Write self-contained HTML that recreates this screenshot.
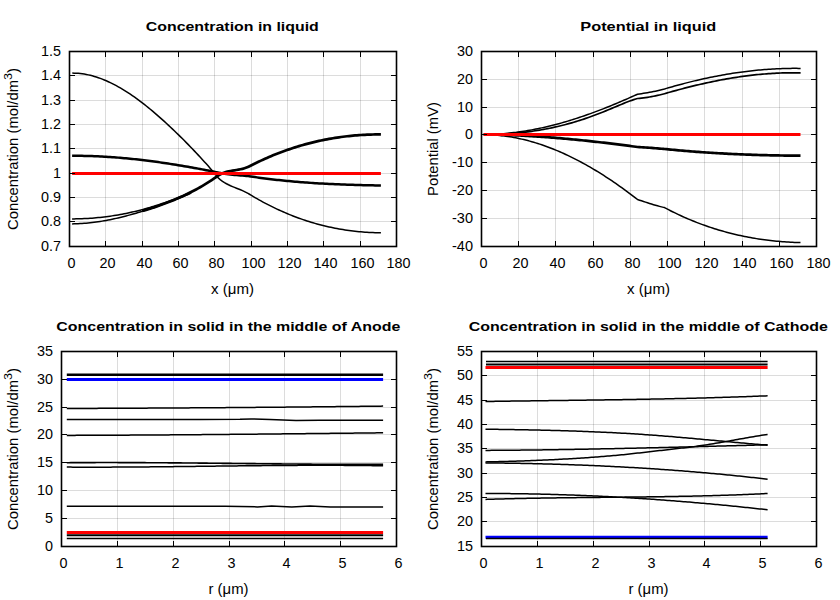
<!DOCTYPE html>
<html><head><meta charset="utf-8"><style>
html,body{margin:0;padding:0;background:#fff;width:840px;height:600px;overflow:hidden}
svg{display:block}
text{font-family:"Liberation Sans", sans-serif}
</style></head><body>
<svg width="840" height="600" viewBox="0 0 840 600" font-family="Liberation Sans, sans-serif" fill="#000">
<rect width="840" height="600" fill="#fff"/>
<rect x="105" y="51.5" width="1" height="195.0" fill="rgba(0,0,0,0.137)"/>
<rect x="142" y="51.5" width="1" height="195.0" fill="rgba(0,0,0,0.137)"/>
<rect x="178" y="51.5" width="1" height="195.0" fill="rgba(0,0,0,0.137)"/>
<rect x="214" y="51.5" width="1" height="195.0" fill="rgba(0,0,0,0.137)"/>
<rect x="251" y="51.5" width="1" height="195.0" fill="rgba(0,0,0,0.137)"/>
<rect x="287" y="51.5" width="1" height="195.0" fill="rgba(0,0,0,0.137)"/>
<rect x="323" y="51.5" width="1" height="195.0" fill="rgba(0,0,0,0.137)"/>
<rect x="360" y="51.5" width="1" height="195.0" fill="rgba(0,0,0,0.137)"/>
<rect x="69.5" y="221" width="327.0" height="1" fill="rgba(0,0,0,0.137)"/>
<rect x="69.5" y="197" width="327.0" height="1" fill="rgba(0,0,0,0.137)"/>
<rect x="69.5" y="173" width="327.0" height="1" fill="rgba(0,0,0,0.137)"/>
<rect x="69.5" y="148" width="327.0" height="1" fill="rgba(0,0,0,0.137)"/>
<rect x="69.5" y="124" width="327.0" height="1" fill="rgba(0,0,0,0.137)"/>
<rect x="69.5" y="100" width="327.0" height="1" fill="rgba(0,0,0,0.137)"/>
<rect x="69.5" y="75" width="327.0" height="1" fill="rgba(0,0,0,0.137)"/>
<path d="M72.30,73.10 L74.30,73.13 L76.30,73.21 L78.30,73.35 L80.30,73.54 L82.30,73.79 L84.30,74.10 L86.30,74.45 L88.30,74.87 L90.30,75.33 L92.30,75.84 L94.30,76.41 L96.30,77.02 L98.30,77.68 L100.30,78.39 L102.30,79.15 L104.30,79.95 L106.30,80.80 L108.30,81.69 L110.30,82.63 L112.30,83.61 L114.30,84.63 L116.30,85.69 L118.30,86.79 L120.30,87.94 L122.30,89.12 L124.30,90.34 L126.30,91.59 L128.30,92.89 L130.30,94.22 L132.30,95.58 L134.30,96.97 L136.30,98.40 L138.30,99.87 L140.30,101.36 L142.30,102.88 L144.30,104.44 L146.30,106.02 L148.30,107.63 L150.30,109.27 L152.30,110.93 L154.30,112.62 L156.30,114.34 L158.30,116.07 L160.30,117.84 L162.30,119.62 L164.30,121.43 L166.30,123.25 L168.30,125.10 L170.30,126.97 L172.30,128.85 L174.30,130.76 L176.30,132.69 L178.30,134.63 L180.30,136.60 L182.30,138.58 L184.30,140.58 L186.30,142.61 L188.30,144.65 L190.30,146.71 L192.30,148.78 L194.30,150.88 L196.30,152.99 L198.30,155.12 L200.30,157.27 L202.30,159.45 L204.30,161.64 L206.30,163.87 L208.30,166.12 L210.30,168.41 L212.30,170.74 L214.30,173.10 L216.30,175.50 L218.30,177.95 L218.50,178.20 L220.50,179.84 L222.50,181.30 L224.50,182.59 L226.50,183.74 L228.50,184.78 L230.50,185.71 L232.50,186.58 L234.50,187.40 L236.50,188.19 L238.50,188.98 L240.50,189.79 L242.50,190.65 L244.50,191.57 L246.50,192.58 L248.50,193.70 L249.00,194.00 L251.00,195.21 L253.00,196.40 L255.00,197.57 L257.00,198.72 L259.00,199.85 L261.00,200.96 L263.00,202.05 L265.00,203.11 L267.00,204.16 L269.00,205.18 L271.00,206.19 L273.00,207.18 L275.00,208.14 L277.00,209.09 L279.00,210.01 L281.00,210.92 L283.00,211.80 L285.00,212.67 L287.00,213.52 L289.00,214.34 L291.00,215.15 L293.00,215.94 L295.00,216.71 L297.00,217.46 L299.00,218.19 L301.00,218.90 L303.00,219.59 L305.00,220.27 L307.00,220.92 L309.00,221.56 L311.00,222.18 L313.00,222.78 L315.00,223.36 L317.00,223.92 L319.00,224.47 L321.00,224.99 L323.00,225.50 L325.00,225.99 L327.00,226.46 L329.00,226.92 L331.00,227.35 L333.00,227.77 L335.00,228.18 L337.00,228.56 L339.00,228.93 L341.00,229.28 L343.00,229.61 L345.00,229.92 L347.00,230.22 L349.00,230.50 L351.00,230.76 L353.00,231.01 L355.00,231.24 L357.00,231.46 L359.00,231.65 L361.00,231.83 L363.00,232.00 L365.00,232.15 L367.00,232.28 L369.00,232.39 L371.00,232.49 L373.00,232.58 L375.00,232.64 L377.00,232.69 L379.00,232.73 L380.90,232.75" fill="none" stroke="#000" stroke-width="1.5" stroke-linejoin="round" stroke-linecap="butt"/>
<path d="M72.10,157.05 L74.10,157.04 L76.10,157.05 L78.09,157.06 L80.09,157.08 L82.08,157.10 L84.08,157.14 L86.07,157.18 L88.07,157.23 L90.06,157.29 L92.06,157.35 L94.05,157.43 L96.05,157.51 L98.04,157.60 L100.04,157.69 L102.03,157.79 L104.03,157.90 L106.02,158.02 L108.02,158.14 L110.02,158.28 L112.01,158.41 L114.01,158.56 L116.00,158.71 L118.00,158.87 L120.00,159.03 L121.99,159.20 L123.99,159.38 L125.98,159.57 L127.98,159.76 L129.98,159.95 L131.97,160.16 L133.97,160.37 L135.96,160.58 L137.96,160.80 L139.96,161.03 L141.95,161.26 L143.95,161.50 L145.95,161.75 L147.94,162.00 L149.94,162.25 L151.94,162.51 L153.93,162.78 L155.93,163.05 L157.93,163.33 L159.92,163.61 L161.92,163.90 L163.92,164.19 L165.91,164.49 L167.91,164.79 L169.91,165.10 L171.91,165.41 L173.90,165.73 L175.90,166.05 L177.90,166.38 L179.89,166.71 L181.89,167.04 L183.89,167.38 L185.89,167.73 L187.88,168.07 L189.88,168.43 L191.88,168.78 L193.88,169.14 L195.87,169.51 L197.87,169.87 L199.87,170.24 L201.87,170.62 L203.87,171.00 L205.86,171.38 L207.86,171.77 L209.86,172.16 L211.86,172.55 L213.86,172.95 L215.85,173.34 L217.85,173.75 L218.22,173.82 L220.23,174.29 L222.27,174.71 L224.30,175.06 L226.33,175.36 L228.35,175.62 L230.37,175.84 L232.39,176.03 L234.40,176.20 L236.41,176.35 L238.41,176.50 L240.41,176.64 L242.40,176.80 L244.39,176.96 L246.37,177.15 L248.36,177.37 L248.82,177.42 L250.81,177.73 L252.82,178.03 L254.82,178.32 L256.82,178.61 L258.83,178.89 L260.83,179.16 L262.84,179.43 L264.84,179.69 L266.84,179.95 L268.85,180.20 L270.85,180.44 L272.86,180.67 L274.86,180.90 L276.86,181.13 L278.87,181.35 L280.87,181.56 L282.87,181.77 L284.88,181.97 L286.88,182.16 L288.88,182.36 L290.89,182.54 L292.89,182.72 L294.89,182.90 L296.90,183.07 L298.90,183.23 L300.90,183.39 L302.90,183.55 L304.91,183.70 L306.91,183.84 L308.91,183.98 L310.92,184.12 L312.92,184.25 L314.92,184.38 L316.92,184.51 L318.93,184.63 L320.93,184.74 L322.93,184.85 L324.93,184.96 L326.94,185.07 L328.94,185.17 L330.94,185.26 L332.94,185.36 L334.94,185.45 L336.95,185.53 L338.95,185.62 L340.95,185.70 L342.95,185.77 L344.95,185.85 L346.96,185.92 L348.96,185.99 L350.96,186.05 L352.96,186.11 L354.96,186.17 L356.96,186.23 L358.97,186.29 L360.97,186.34 L362.97,186.39 L364.97,186.44 L366.97,186.48 L368.97,186.53 L370.97,186.57 L372.98,186.61 L374.98,186.65 L376.98,186.68 L378.98,186.72 L380.88,186.75 L380.92,184.25 L379.02,184.22 L377.02,184.18 L375.02,184.15 L373.02,184.11 L371.03,184.07 L369.03,184.03 L367.03,183.98 L365.03,183.94 L363.03,183.89 L361.03,183.84 L359.03,183.79 L357.04,183.73 L355.04,183.68 L353.04,183.62 L351.04,183.55 L349.04,183.49 L347.04,183.42 L345.05,183.35 L343.05,183.28 L341.05,183.20 L339.05,183.12 L337.05,183.04 L335.06,182.95 L333.06,182.86 L331.06,182.77 L329.06,182.67 L327.06,182.57 L325.07,182.47 L323.07,182.36 L321.07,182.25 L319.07,182.13 L317.08,182.01 L315.08,181.89 L313.08,181.76 L311.08,181.63 L309.09,181.49 L307.09,181.35 L305.09,181.20 L303.10,181.05 L301.10,180.90 L299.10,180.74 L297.10,180.57 L295.11,180.41 L293.11,180.23 L291.11,180.05 L289.12,179.87 L287.12,179.68 L285.12,179.48 L283.13,179.28 L281.13,179.07 L279.13,178.86 L277.14,178.64 L275.14,178.42 L273.14,178.19 L271.15,177.96 L269.15,177.71 L267.16,177.47 L265.16,177.21 L263.16,176.95 L261.17,176.69 L259.17,176.41 L257.18,176.14 L255.18,175.85 L253.18,175.56 L251.19,175.26 L249.18,174.95 L248.64,174.89 L246.63,174.67 L244.61,174.47 L242.60,174.31 L240.59,174.15 L238.59,174.01 L236.59,173.86 L234.60,173.71 L232.61,173.54 L230.63,173.35 L228.65,173.14 L226.67,172.88 L224.70,172.59 L222.73,172.25 L220.77,171.85 L218.78,171.38 L218.35,171.30 L216.35,170.89 L214.34,170.49 L212.34,170.10 L210.34,169.70 L208.34,169.31 L206.34,168.93 L204.33,168.54 L202.33,168.16 L200.33,167.79 L198.33,167.42 L196.33,167.05 L194.32,166.68 L192.32,166.32 L190.32,165.96 L188.32,165.61 L186.31,165.26 L184.31,164.92 L182.31,164.58 L180.31,164.24 L178.30,163.91 L176.30,163.58 L174.30,163.26 L172.29,162.94 L170.29,162.63 L168.29,162.32 L166.29,162.02 L164.28,161.72 L162.28,161.43 L160.28,161.14 L158.27,160.85 L156.27,160.58 L154.27,160.30 L152.26,160.04 L150.26,159.77 L148.26,159.52 L146.25,159.27 L144.25,159.02 L142.25,158.78 L140.24,158.55 L138.24,158.32 L136.24,158.10 L134.23,157.88 L132.23,157.67 L130.22,157.47 L128.22,157.27 L126.22,157.08 L124.21,156.89 L122.21,156.71 L120.20,156.54 L118.20,156.38 L116.20,156.22 L114.19,156.07 L112.19,155.92 L110.18,155.78 L108.18,155.65 L106.18,155.53 L104.17,155.41 L102.17,155.30 L100.16,155.19 L98.16,155.10 L96.15,155.01 L94.15,154.93 L92.14,154.86 L90.14,154.79 L88.13,154.73 L86.13,154.68 L84.12,154.64 L82.12,154.60 L80.11,154.58 L78.11,154.56 L76.10,154.55 L74.10,154.54 L72.10,154.55 Z" fill="#000"/>
<path d="M72.10,218.90 L74.10,218.89 L76.10,218.87 L78.10,218.83 L80.10,218.78 L82.10,218.71 L84.10,218.62 L86.10,218.53 L88.10,218.41 L90.10,218.28 L92.10,218.14 L94.10,217.98 L96.10,217.81 L98.10,217.62 L100.10,217.42 L102.10,217.20 L104.10,216.96 L106.10,216.71 L108.10,216.45 L110.10,216.17 L112.10,215.88 L114.10,215.57 L116.10,215.24 L118.10,214.90 L120.10,214.55 L122.10,214.18 L124.10,213.79 L126.10,213.39 L128.10,212.97 L130.10,212.54 L132.10,212.10 L134.10,211.63 L136.10,211.16 L138.10,210.67 L140.10,210.16 L142.10,209.63 L144.10,209.10 L146.10,208.54 L148.10,207.97 L150.10,207.39 L152.10,206.79 L154.10,206.17 L156.10,205.54 L158.10,204.89 L160.10,204.23 L162.10,203.55 L164.10,202.86 L166.10,202.15 L168.10,201.42 L170.10,200.68 L172.10,199.93 L174.10,199.16 L176.10,198.37 L178.10,197.57 L180.10,196.75 L182.10,195.92 L184.10,195.07 L186.10,194.20 L188.10,193.32 L190.10,192.42 L191.25,191.90" fill="none" stroke="#000" stroke-width="1.5" stroke-linejoin="round" stroke-linecap="butt"/>
<path d="M72.10,223.90 L74.10,223.86 L76.10,223.81 L78.10,223.72 L80.10,223.62 L82.10,223.50 L84.10,223.35 L86.10,223.18 L88.10,222.99 L90.10,222.78 L92.10,222.56 L94.10,222.31 L96.10,222.04 L98.10,221.75 L100.10,221.44 L102.10,221.12 L104.10,220.78 L106.10,220.42 L108.10,220.04 L110.10,219.65 L112.10,219.24 L114.10,218.81 L116.10,218.37 L118.10,217.91 L120.10,217.44 L122.10,216.95 L124.10,216.45 L126.10,215.93 L128.10,215.40 L130.10,214.86 L132.10,214.30 L134.10,213.74 L136.10,213.16 L138.10,212.56 L140.10,211.96 L142.10,211.35 L144.10,210.72 L146.10,210.08 L148.10,209.44 L150.10,208.78 L152.10,208.11 L154.10,207.44 L156.10,206.75 L158.10,206.05 L160.10,205.35 L162.10,204.63 L164.10,203.90 L166.10,203.16 L168.10,202.42 L170.10,201.66 L172.10,200.90 L174.10,200.12 L176.10,199.34 L178.10,198.54 L180.10,197.74 L182.10,196.93 L184.10,196.11 L186.10,195.28 L188.10,194.44 L190.10,193.59 L191.25,193.10" fill="none" stroke="#000" stroke-width="1.5" stroke-linejoin="round" stroke-linecap="butt"/>
<path d="M142.50,212.29 L144.50,211.72 L146.51,211.14 L148.52,210.54 L150.52,209.92 L152.53,209.29 L154.54,208.63 L156.54,207.96 L158.55,207.28 L160.56,206.57 L162.56,205.85 L164.57,205.10 L166.58,204.35 L168.59,203.58 L170.60,202.79 L172.61,201.99 L174.62,201.16 L176.63,200.31 L178.64,199.45 L180.65,198.56 L182.66,197.65 L184.67,196.72 L186.68,195.76 L188.70,194.79 L190.71,193.79 L192.72,192.76 L194.73,191.71 L196.74,190.63 L198.76,189.52 L200.77,188.39 L202.78,187.22 L204.79,186.03 L206.81,184.81 L208.82,183.55 L210.83,182.27 L212.85,180.95 L214.86,179.59 L216.87,178.21 L218.88,176.79 L219.19,176.56 L221.13,175.45 L223.03,174.55 L224.94,173.81 L226.87,173.21 L228.80,172.72 L230.76,172.31 L232.72,171.97 L234.71,171.65 L236.71,171.34 L238.74,171.00 L240.78,170.61 L242.83,170.14 L244.90,169.57 L246.98,168.85 L249.04,167.98 L249.61,167.71 L251.61,166.68 L253.60,165.67 L255.59,164.69 L257.59,163.72 L259.58,162.77 L261.57,161.84 L263.56,160.92 L265.55,160.03 L267.54,159.15 L269.53,158.29 L271.52,157.44 L273.51,156.62 L275.50,155.81 L277.49,155.02 L279.48,154.24 L281.48,153.48 L283.47,152.75 L285.46,152.02 L287.45,151.32 L289.44,150.63 L291.43,149.95 L293.42,149.30 L295.41,148.66 L297.40,148.04 L299.39,147.43 L301.38,146.84 L303.37,146.27 L305.36,145.71 L307.35,145.17 L309.34,144.64 L311.33,144.14 L313.32,143.64 L315.31,143.16 L317.30,142.70 L319.29,142.26 L321.28,141.83 L323.27,141.41 L325.26,141.01 L327.25,140.63 L329.24,140.26 L331.23,139.90 L333.22,139.56 L335.21,139.24 L337.20,138.93 L339.19,138.64 L341.18,138.36 L343.17,138.09 L345.16,137.84 L347.15,137.61 L349.14,137.39 L351.13,137.18 L353.13,136.99 L355.12,136.81 L357.11,136.65 L359.10,136.50 L361.09,136.36 L363.08,136.24 L365.07,136.13 L367.06,136.03 L369.05,135.95 L371.04,135.89 L373.03,135.83 L375.02,135.79 L377.01,135.76 L379.01,135.75 L380.90,135.75 L380.90,133.05 L378.99,133.05 L376.99,133.06 L374.98,133.09 L372.97,133.13 L370.96,133.19 L368.95,133.26 L366.94,133.34 L364.93,133.43 L362.92,133.54 L360.91,133.67 L358.90,133.80 L356.89,133.95 L354.88,134.12 L352.87,134.30 L350.87,134.49 L348.86,134.70 L346.85,134.93 L344.84,135.16 L342.83,135.42 L340.82,135.68 L338.81,135.97 L336.80,136.26 L334.79,136.57 L332.78,136.90 L330.77,137.24 L328.76,137.60 L326.75,137.97 L324.74,138.36 L322.73,138.77 L320.72,139.18 L318.71,139.62 L316.70,140.07 L314.69,140.54 L312.68,141.02 L310.67,141.52 L308.66,142.03 L306.65,142.56 L304.64,143.11 L302.63,143.67 L300.62,144.25 L298.61,144.85 L296.60,145.46 L294.59,146.09 L292.58,146.73 L290.57,147.39 L288.56,148.07 L286.55,148.77 L284.54,149.48 L282.53,150.21 L280.52,150.96 L278.52,151.72 L276.51,152.50 L274.50,153.30 L272.49,154.12 L270.48,154.95 L268.47,155.80 L266.46,156.67 L264.45,157.56 L262.44,158.46 L260.43,159.39 L258.42,160.33 L256.41,161.29 L254.41,162.26 L252.40,163.26 L250.39,164.27 L248.39,165.30 L247.96,165.50 L246.02,166.33 L244.10,166.99 L242.17,167.53 L240.22,167.97 L238.26,168.34 L236.29,168.67 L234.29,168.98 L232.28,169.30 L230.24,169.66 L228.20,170.09 L226.13,170.62 L224.06,171.26 L221.97,172.07 L219.87,173.06 L217.81,174.24 L217.32,174.59 L215.33,175.99 L213.34,177.36 L211.35,178.70 L209.37,180.00 L207.38,181.27 L205.39,182.51 L203.41,183.72 L201.42,184.89 L199.43,186.04 L197.44,187.16 L195.46,188.25 L193.47,189.32 L191.48,190.36 L189.49,191.37 L187.50,192.36 L185.52,193.33 L183.53,194.27 L181.54,195.19 L179.55,196.09 L177.56,196.97 L175.57,197.83 L173.58,198.67 L171.59,199.49 L169.60,200.28 L167.61,201.06 L165.62,201.82 L163.63,202.56 L161.64,203.27 L159.64,203.96 L157.65,204.63 L155.66,205.29 L153.66,205.93 L151.67,206.54 L149.68,207.15 L147.68,207.73 L145.69,208.30 L143.70,208.85 L141.70,209.38 Z" fill="#000"/>
<line x1="72.1" y1="173.5" x2="380.9" y2="173.5" stroke="#ff0000" stroke-width="3"/>
<rect x="69" y="241.0" width="1" height="5" fill="#000"/>
<rect x="69" y="52.0" width="1" height="5" fill="#000"/>
<text x="71.40" y="267.70" font-size="14" text-anchor="middle" textLength="8.00" lengthAdjust="spacingAndGlyphs">0</text>
<rect x="105" y="241.0" width="1" height="5" fill="#000"/>
<rect x="105" y="52.0" width="1" height="5" fill="#000"/>
<text x="107.40" y="267.70" font-size="14" text-anchor="middle" textLength="16.00" lengthAdjust="spacingAndGlyphs">20</text>
<rect x="142" y="241.0" width="1" height="5" fill="#000"/>
<rect x="142" y="52.0" width="1" height="5" fill="#000"/>
<text x="144.40" y="267.70" font-size="14" text-anchor="middle" textLength="16.00" lengthAdjust="spacingAndGlyphs">40</text>
<rect x="178" y="241.0" width="1" height="5" fill="#000"/>
<rect x="178" y="52.0" width="1" height="5" fill="#000"/>
<text x="180.40" y="267.70" font-size="14" text-anchor="middle" textLength="16.00" lengthAdjust="spacingAndGlyphs">60</text>
<rect x="214" y="241.0" width="1" height="5" fill="#000"/>
<rect x="214" y="52.0" width="1" height="5" fill="#000"/>
<text x="216.40" y="267.70" font-size="14" text-anchor="middle" textLength="16.00" lengthAdjust="spacingAndGlyphs">80</text>
<rect x="251" y="241.0" width="1" height="5" fill="#000"/>
<rect x="251" y="52.0" width="1" height="5" fill="#000"/>
<text x="253.40" y="267.70" font-size="14" text-anchor="middle" textLength="24.00" lengthAdjust="spacingAndGlyphs">100</text>
<rect x="287" y="241.0" width="1" height="5" fill="#000"/>
<rect x="287" y="52.0" width="1" height="5" fill="#000"/>
<text x="289.40" y="267.70" font-size="14" text-anchor="middle" textLength="24.00" lengthAdjust="spacingAndGlyphs">120</text>
<rect x="323" y="241.0" width="1" height="5" fill="#000"/>
<rect x="323" y="52.0" width="1" height="5" fill="#000"/>
<text x="325.40" y="267.70" font-size="14" text-anchor="middle" textLength="24.00" lengthAdjust="spacingAndGlyphs">140</text>
<rect x="360" y="241.0" width="1" height="5" fill="#000"/>
<rect x="360" y="52.0" width="1" height="5" fill="#000"/>
<text x="362.40" y="267.70" font-size="14" text-anchor="middle" textLength="24.00" lengthAdjust="spacingAndGlyphs">160</text>
<rect x="396" y="241.0" width="1" height="5" fill="#000"/>
<rect x="396" y="52.0" width="1" height="5" fill="#000"/>
<text x="398.40" y="267.70" font-size="14" text-anchor="middle" textLength="24.00" lengthAdjust="spacingAndGlyphs">180</text>
<rect x="70.0" y="246" width="5" height="1" fill="#000"/>
<rect x="391.0" y="246" width="5" height="1" fill="#000"/>
<text x="61.00" y="250.90" font-size="14" text-anchor="end" textLength="20.00" lengthAdjust="spacingAndGlyphs">0.7</text>
<rect x="70.0" y="221" width="5" height="1" fill="#000"/>
<rect x="391.0" y="221" width="5" height="1" fill="#000"/>
<text x="61.00" y="225.90" font-size="14" text-anchor="end" textLength="20.00" lengthAdjust="spacingAndGlyphs">0.8</text>
<rect x="70.0" y="197" width="5" height="1" fill="#000"/>
<rect x="391.0" y="197" width="5" height="1" fill="#000"/>
<text x="61.00" y="201.90" font-size="14" text-anchor="end" textLength="20.00" lengthAdjust="spacingAndGlyphs">0.9</text>
<rect x="70.0" y="173" width="5" height="1" fill="#000"/>
<rect x="391.0" y="173" width="5" height="1" fill="#000"/>
<text x="61.00" y="177.90" font-size="14" text-anchor="end" textLength="8.00" lengthAdjust="spacingAndGlyphs">1</text>
<rect x="70.0" y="148" width="5" height="1" fill="#000"/>
<rect x="391.0" y="148" width="5" height="1" fill="#000"/>
<text x="61.00" y="152.90" font-size="14" text-anchor="end" textLength="20.00" lengthAdjust="spacingAndGlyphs">1.1</text>
<rect x="70.0" y="124" width="5" height="1" fill="#000"/>
<rect x="391.0" y="124" width="5" height="1" fill="#000"/>
<text x="61.00" y="128.90" font-size="14" text-anchor="end" textLength="20.00" lengthAdjust="spacingAndGlyphs">1.2</text>
<rect x="70.0" y="100" width="5" height="1" fill="#000"/>
<rect x="391.0" y="100" width="5" height="1" fill="#000"/>
<text x="61.00" y="104.90" font-size="14" text-anchor="end" textLength="20.00" lengthAdjust="spacingAndGlyphs">1.3</text>
<rect x="70.0" y="75" width="5" height="1" fill="#000"/>
<rect x="391.0" y="75" width="5" height="1" fill="#000"/>
<text x="61.00" y="79.90" font-size="14" text-anchor="end" textLength="20.00" lengthAdjust="spacingAndGlyphs">1.4</text>
<rect x="70.0" y="51" width="5" height="1" fill="#000"/>
<rect x="391.0" y="51" width="5" height="1" fill="#000"/>
<text x="61.00" y="55.90" font-size="14" text-anchor="end" textLength="20.00" lengthAdjust="spacingAndGlyphs">1.5</text>
<rect x="69.5" y="51.5" width="327.0" height="195.0" fill="none" stroke="#000" stroke-width="1.6"/>
<text x="232.30" y="30.80" font-size="13.7" text-anchor="middle" textLength="173.00" lengthAdjust="spacingAndGlyphs" font-weight="bold">Concentration in liquid</text>
<text x="232.50" y="293.60" font-size="14" text-anchor="middle" textLength="43.00" lengthAdjust="spacingAndGlyphs">x (μm)</text>
<g transform="translate(18.00 230.00) rotate(-90)">
<text x="0.00" y="0.00" font-size="14" text-anchor="start" textLength="150.00" lengthAdjust="spacingAndGlyphs">Concentration (mol/dm</text>
<text x="150.00" y="-6.40" font-size="11.200000000000001" text-anchor="start" textLength="7.00" lengthAdjust="spacingAndGlyphs">3</text>
<text x="157.00" y="0.00" font-size="14" text-anchor="start" textLength="5.00" lengthAdjust="spacingAndGlyphs">)</text>
</g>
<rect x="518" y="51.5" width="1" height="195.0" fill="rgba(0,0,0,0.137)"/>
<rect x="555" y="51.5" width="1" height="195.0" fill="rgba(0,0,0,0.137)"/>
<rect x="593" y="51.5" width="1" height="195.0" fill="rgba(0,0,0,0.137)"/>
<rect x="630" y="51.5" width="1" height="195.0" fill="rgba(0,0,0,0.137)"/>
<rect x="667" y="51.5" width="1" height="195.0" fill="rgba(0,0,0,0.137)"/>
<rect x="704" y="51.5" width="1" height="195.0" fill="rgba(0,0,0,0.137)"/>
<rect x="742" y="51.5" width="1" height="195.0" fill="rgba(0,0,0,0.137)"/>
<rect x="779" y="51.5" width="1" height="195.0" fill="rgba(0,0,0,0.137)"/>
<rect x="481.5" y="218" width="335.0" height="1" fill="rgba(0,0,0,0.137)"/>
<rect x="481.5" y="190" width="335.0" height="1" fill="rgba(0,0,0,0.137)"/>
<rect x="481.5" y="162" width="335.0" height="1" fill="rgba(0,0,0,0.137)"/>
<rect x="481.5" y="134" width="335.0" height="1" fill="rgba(0,0,0,0.137)"/>
<rect x="481.5" y="107" width="335.0" height="1" fill="rgba(0,0,0,0.137)"/>
<rect x="481.5" y="79" width="335.0" height="1" fill="rgba(0,0,0,0.137)"/>
<path d="M483.75,134.50 L485.75,134.49 L487.75,134.45 L489.75,134.41 L491.75,134.34 L493.75,134.27 L495.75,134.17 L497.75,134.06 L499.75,133.93 L501.75,133.79 L503.75,133.63 L505.75,133.46 L507.75,133.27 L509.75,133.07 L511.75,132.85 L513.75,132.62 L515.75,132.37 L517.75,132.11 L519.75,131.83 L521.75,131.54 L523.75,131.24 L525.75,130.92 L527.75,130.58 L529.75,130.24 L531.75,129.87 L533.75,129.50 L535.75,129.11 L537.75,128.71 L539.75,128.29 L541.75,127.86 L543.75,127.42 L545.75,126.96 L547.75,126.49 L549.75,126.01 L551.75,125.52 L553.75,125.01 L555.75,124.49 L557.75,123.96 L559.75,123.41 L561.75,122.86 L563.75,122.29 L565.75,121.71 L567.75,121.11 L569.75,120.51 L571.75,119.89 L573.75,119.27 L575.75,118.63 L577.75,117.98 L579.75,117.31 L581.75,116.64 L583.75,115.96 L585.75,115.27 L587.75,114.56 L589.75,113.85 L591.75,113.13 L593.75,112.39 L595.75,111.65 L597.75,110.90 L599.75,110.13 L601.75,109.36 L603.75,108.58 L605.75,107.79 L607.75,106.99 L609.75,106.19 L611.75,105.37 L613.75,104.55 L615.75,103.72 L617.75,102.88 L619.75,102.03 L621.75,101.18 L623.75,100.31 L625.75,99.44 L627.75,98.57 L629.75,97.68 L631.75,96.79 L633.75,95.90 L635.75,94.99 L637.50,94.20 L639.50,93.94 L641.50,93.66 L643.50,93.36 L645.50,93.05 L647.50,92.71 L649.50,92.35 L651.50,91.97 L653.50,91.57 L655.50,91.15 L657.50,90.70 L659.50,90.24 L661.50,89.76 L663.50,89.26 L664.50,89.00 L666.50,88.40 L668.50,87.81 L670.50,87.23 L672.50,86.66 L674.50,86.09 L676.50,85.53 L678.50,84.99 L680.50,84.44 L682.50,83.91 L684.50,83.39 L686.50,82.87 L688.50,82.36 L690.50,81.86 L692.50,81.37 L694.50,80.89 L696.50,80.41 L698.50,79.94 L700.50,79.49 L702.50,79.04 L704.50,78.60 L706.50,78.16 L708.50,77.74 L710.50,77.33 L712.50,76.92 L714.50,76.52 L716.50,76.14 L718.50,75.76 L720.50,75.39 L722.50,75.02 L724.50,74.67 L726.50,74.33 L728.50,73.99 L730.50,73.67 L732.50,73.35 L734.50,73.05 L736.50,72.75 L738.50,72.46 L740.50,72.18 L742.50,71.92 L744.50,71.66 L746.50,71.41 L748.50,71.17 L750.50,70.93 L752.50,70.71 L754.50,70.50 L756.50,70.30 L758.50,70.11 L760.50,69.92 L762.50,69.75 L764.50,69.59 L766.50,69.44 L768.50,69.29 L770.50,69.16 L772.50,69.04 L774.50,68.93 L776.50,68.82 L778.50,68.73 L780.50,68.65 L782.50,68.58 L784.50,68.52 L786.50,68.46 L788.50,68.42 L790.50,68.39 L792.50,68.37 L794.50,68.36 L796.50,68.36 L798.50,68.38 L800.50,68.40 L800.60,68.40" fill="none" stroke="#000" stroke-width="1.5" stroke-linejoin="round" stroke-linecap="butt"/>
<path d="M483.75,134.50 L485.75,134.49 L487.75,134.47 L489.75,134.45 L491.75,134.41 L493.75,134.36 L495.75,134.30 L497.75,134.23 L499.75,134.15 L501.75,134.06 L503.75,133.96 L505.75,133.85 L507.75,133.73 L509.75,133.59 L511.75,133.44 L513.75,133.28 L515.75,133.11 L517.75,132.93 L519.75,132.73 L521.75,132.53 L523.75,132.30 L525.75,132.07 L527.75,131.82 L529.75,131.56 L531.75,131.29 L533.75,131.01 L535.75,130.71 L537.75,130.39 L539.75,130.07 L541.75,129.72 L543.75,129.37 L545.75,129.00 L547.75,128.61 L549.75,128.21 L551.75,127.80 L553.75,127.37 L555.75,126.93 L557.75,126.47 L559.75,125.99 L561.75,125.50 L563.75,125.00 L565.75,124.47 L567.75,123.94 L569.75,123.38 L571.75,122.81 L573.75,122.23 L575.75,121.62 L577.75,121.01 L579.75,120.38 L581.75,119.73 L583.75,119.07 L585.75,118.39 L587.75,117.70 L589.75,117.00 L591.75,116.28 L593.75,115.55 L595.75,114.81 L597.75,114.05 L599.75,113.28 L601.75,112.50 L603.75,111.70 L605.75,110.89 L607.75,110.07 L609.75,109.24 L611.75,108.40 L613.75,107.55 L615.75,106.70 L617.75,105.85 L619.75,105.01 L621.75,104.19 L623.75,103.37 L625.75,102.58 L627.75,101.80 L629.75,101.06 L631.75,100.34 L633.75,99.66 L635.75,99.02 L637.50,98.50 L639.50,98.32 L641.50,98.10 L643.50,97.86 L645.50,97.60 L647.50,97.30 L649.50,96.98 L651.50,96.63 L653.50,96.26 L655.50,95.85 L657.50,95.42 L659.50,94.97 L661.50,94.48 L663.50,93.97 L664.50,93.70 L666.50,93.12 L668.50,92.55 L670.50,91.98 L672.50,91.42 L674.50,90.86 L676.50,90.31 L678.50,89.77 L680.50,89.23 L682.50,88.71 L684.50,88.18 L686.50,87.67 L688.50,87.16 L690.50,86.66 L692.50,86.16 L694.50,85.67 L696.50,85.19 L698.50,84.72 L700.50,84.26 L702.50,83.80 L704.50,83.35 L706.50,82.91 L708.50,82.47 L710.50,82.05 L712.50,81.63 L714.50,81.22 L716.50,80.82 L718.50,80.43 L720.50,80.04 L722.50,79.67 L724.50,79.30 L726.50,78.95 L728.50,78.60 L730.50,78.26 L732.50,77.93 L734.50,77.61 L736.50,77.29 L738.50,76.99 L740.50,76.70 L742.50,76.42 L744.50,76.14 L746.50,75.88 L748.50,75.63 L750.50,75.38 L752.50,75.15 L754.50,74.93 L756.50,74.72 L758.50,74.52 L760.50,74.33 L762.50,74.15 L764.50,73.98 L766.50,73.82 L768.50,73.67 L770.50,73.53 L772.50,73.41 L774.50,73.30 L776.50,73.19 L778.50,73.10 L780.50,73.02 L782.50,72.96 L784.50,72.90 L786.50,72.86 L788.50,72.83 L790.50,72.81 L792.50,72.80 L794.50,72.81 L796.50,72.82 L798.50,72.85 L800.50,72.90 L800.60,72.90" fill="none" stroke="#000" stroke-width="1.7" stroke-linejoin="round" stroke-linecap="butt"/>
<path d="M483.74,135.85 L485.74,135.87 L487.73,135.89 L489.73,135.92 L491.73,135.95 L493.72,135.98 L495.72,136.02 L497.72,136.07 L499.71,136.12 L501.71,136.17 L503.71,136.23 L505.71,136.30 L507.70,136.36 L509.70,136.44 L511.70,136.51 L513.69,136.59 L515.69,136.68 L517.69,136.77 L519.69,136.86 L521.68,136.96 L523.68,137.06 L525.68,137.17 L527.67,137.28 L529.67,137.39 L531.67,137.51 L533.67,137.63 L535.66,137.76 L537.66,137.89 L539.66,138.02 L541.66,138.16 L543.65,138.30 L545.65,138.44 L547.65,138.59 L549.65,138.74 L551.64,138.90 L553.64,139.06 L555.64,139.22 L557.64,139.38 L559.64,139.55 L561.63,139.72 L563.63,139.90 L565.63,140.08 L567.63,140.26 L569.62,140.45 L571.62,140.64 L573.62,140.83 L575.62,141.02 L577.62,141.22 L579.61,141.42 L581.61,141.62 L583.61,141.83 L585.61,142.04 L587.61,142.25 L589.60,142.47 L591.60,142.69 L593.60,142.91 L595.60,143.13 L597.60,143.36 L599.60,143.59 L601.59,143.82 L603.59,144.05 L605.59,144.29 L607.59,144.53 L609.59,144.77 L611.59,145.01 L613.58,145.26 L615.58,145.50 L617.58,145.75 L619.58,146.01 L621.58,146.26 L623.58,146.52 L625.58,146.78 L627.57,147.04 L629.57,147.30 L631.57,147.57 L633.57,147.83 L635.57,148.10 L637.37,148.34 L639.42,148.46 L641.42,148.58 L643.41,148.70 L645.41,148.83 L647.41,148.97 L649.40,149.11 L651.40,149.26 L653.40,149.41 L655.39,149.57 L657.39,149.73 L659.38,149.90 L661.38,150.07 L663.38,150.25 L664.37,150.34 L666.37,150.54 L668.37,150.74 L670.37,150.93 L672.37,151.12 L674.38,151.31 L676.38,151.50 L678.38,151.68 L680.38,151.85 L682.38,152.03 L684.39,152.20 L686.39,152.36 L688.39,152.52 L690.39,152.68 L692.40,152.84 L694.40,153.00 L696.40,153.15 L698.40,153.29 L700.40,153.44 L702.41,153.58 L704.41,153.72 L706.41,153.85 L708.41,153.98 L710.41,154.11 L712.42,154.23 L714.42,154.36 L716.42,154.48 L718.42,154.59 L720.42,154.71 L722.43,154.82 L724.43,154.92 L726.43,155.03 L728.43,155.13 L730.43,155.23 L732.44,155.33 L734.44,155.42 L736.44,155.51 L738.44,155.60 L740.44,155.68 L742.45,155.76 L744.45,155.84 L746.45,155.92 L748.45,155.99 L750.45,156.07 L752.45,156.13 L754.46,156.20 L756.46,156.26 L758.46,156.32 L760.46,156.38 L762.46,156.44 L764.46,156.49 L766.47,156.54 L768.47,156.59 L770.47,156.64 L772.47,156.68 L774.47,156.72 L776.47,156.76 L778.48,156.80 L780.48,156.83 L782.48,156.86 L784.48,156.89 L786.48,156.92 L788.48,156.95 L790.49,156.97 L792.49,156.99 L794.49,157.01 L796.49,157.02 L798.49,157.04 L800.49,157.05 L800.51,154.35 L798.51,154.34 L796.51,154.32 L794.51,154.31 L792.51,154.29 L790.51,154.27 L788.52,154.25 L786.52,154.22 L784.52,154.19 L782.52,154.16 L780.52,154.13 L778.52,154.10 L776.53,154.06 L774.53,154.02 L772.53,153.98 L770.53,153.94 L768.53,153.89 L766.53,153.84 L764.54,153.79 L762.54,153.74 L760.54,153.68 L758.54,153.63 L756.54,153.57 L754.54,153.50 L752.55,153.44 L750.55,153.37 L748.55,153.30 L746.55,153.22 L744.55,153.15 L742.55,153.07 L740.56,152.98 L738.56,152.90 L736.56,152.81 L734.56,152.72 L732.56,152.63 L730.57,152.53 L728.57,152.43 L726.57,152.33 L724.57,152.23 L722.57,152.12 L720.58,152.01 L718.58,151.90 L716.58,151.78 L714.58,151.66 L712.58,151.54 L710.59,151.41 L708.59,151.29 L706.59,151.16 L704.59,151.02 L702.59,150.88 L700.60,150.74 L698.60,150.60 L696.60,150.45 L694.60,150.30 L692.60,150.15 L690.61,149.99 L688.61,149.83 L686.61,149.67 L684.61,149.50 L682.62,149.33 L680.62,149.16 L678.62,148.99 L676.62,148.81 L674.62,148.62 L672.63,148.44 L670.63,148.25 L668.63,148.05 L666.63,147.86 L664.63,147.66 L663.62,147.56 L661.62,147.38 L659.62,147.21 L657.61,147.04 L655.61,146.88 L653.60,146.72 L651.60,146.56 L649.60,146.42 L647.59,146.28 L645.59,146.14 L643.59,146.01 L641.58,145.88 L639.58,145.77 L637.63,145.66 L635.93,145.43 L633.93,145.16 L631.93,144.89 L629.93,144.62 L627.93,144.36 L625.92,144.10 L623.92,143.84 L621.92,143.58 L619.92,143.33 L617.92,143.08 L615.92,142.82 L613.92,142.58 L611.91,142.33 L609.91,142.09 L607.91,141.84 L605.91,141.61 L603.91,141.37 L601.91,141.13 L599.90,140.90 L597.90,140.67 L595.90,140.45 L593.90,140.22 L591.90,140.00 L589.90,139.78 L587.89,139.57 L585.89,139.36 L583.89,139.15 L581.89,138.94 L579.89,138.73 L577.88,138.53 L575.88,138.33 L573.88,138.14 L571.88,137.95 L569.88,137.76 L567.87,137.57 L565.87,137.39 L563.87,137.21 L561.87,137.03 L559.86,136.86 L557.86,136.69 L555.86,136.53 L553.86,136.36 L551.86,136.20 L549.85,136.05 L547.85,135.90 L545.85,135.75 L543.85,135.60 L541.84,135.46 L539.84,135.33 L537.84,135.19 L535.84,135.06 L533.83,134.94 L531.83,134.81 L529.83,134.70 L527.83,134.58 L525.82,134.47 L523.82,134.36 L521.82,134.26 L519.81,134.16 L517.81,134.07 L515.81,133.98 L513.81,133.90 L511.80,133.81 L509.80,133.74 L507.80,133.67 L505.79,133.60 L503.79,133.53 L501.79,133.47 L499.79,133.42 L497.78,133.37 L495.78,133.32 L493.78,133.28 L491.77,133.25 L489.77,133.22 L487.77,133.19 L485.76,133.17 L483.76,133.15 Z" fill="#000"/>
<path d="M483.75,134.50 L485.75,134.53 L487.75,134.58 L489.75,134.66 L491.75,134.76 L493.75,134.89 L495.75,135.04 L497.75,135.21 L499.75,135.41 L501.75,135.63 L503.75,135.87 L505.75,136.14 L507.75,136.43 L509.75,136.75 L511.75,137.08 L513.75,137.44 L515.75,137.83 L517.75,138.23 L519.75,138.66 L521.75,139.11 L523.75,139.58 L525.75,140.08 L527.75,140.59 L529.75,141.13 L531.75,141.69 L533.75,142.27 L535.75,142.88 L537.75,143.50 L539.75,144.15 L541.75,144.82 L543.75,145.51 L545.75,146.22 L547.75,146.95 L549.75,147.70 L551.75,148.48 L553.75,149.27 L555.75,150.08 L557.75,150.92 L559.75,151.77 L561.75,152.65 L563.75,153.54 L565.75,154.46 L567.75,155.39 L569.75,156.35 L571.75,157.32 L573.75,158.31 L575.75,159.32 L577.75,160.36 L579.75,161.41 L581.75,162.48 L583.75,163.57 L585.75,164.67 L587.75,165.80 L589.75,166.95 L591.75,168.11 L593.75,169.29 L595.75,170.49 L597.75,171.71 L599.75,172.94 L601.75,174.20 L603.75,175.47 L605.75,176.76 L607.75,178.07 L609.75,179.39 L611.75,180.73 L613.75,182.09 L615.75,183.47 L617.75,184.86 L619.75,186.27 L621.75,187.70 L623.75,189.14 L625.75,190.60 L627.75,192.08 L629.75,193.57 L631.75,195.08 L633.75,196.60 L635.75,198.14 L637.50,199.50 L639.50,200.17 L641.50,200.83 L643.50,201.50 L645.50,202.16 L647.50,202.80 L649.50,203.44 L651.50,204.07 L653.50,204.67 L655.50,205.26 L657.50,205.83 L659.50,206.37 L661.50,206.89 L663.50,207.37 L664.50,207.60 L666.50,208.66 L668.50,209.69 L670.50,210.71 L672.50,211.71 L674.50,212.70 L676.50,213.66 L678.50,214.61 L680.50,215.54 L682.50,216.45 L684.50,217.34 L686.50,218.22 L688.50,219.08 L690.50,219.92 L692.50,220.74 L694.50,221.55 L696.50,222.33 L698.50,223.11 L700.50,223.86 L702.50,224.60 L704.50,225.32 L706.50,226.03 L708.50,226.72 L710.50,227.39 L712.50,228.05 L714.50,228.69 L716.50,229.31 L718.50,229.92 L720.50,230.51 L722.50,231.09 L724.50,231.65 L726.50,232.20 L728.50,232.73 L730.50,233.25 L732.50,233.75 L734.50,234.23 L736.50,234.70 L738.50,235.16 L740.50,235.60 L742.50,236.03 L744.50,236.44 L746.50,236.84 L748.50,237.22 L750.50,237.59 L752.50,237.95 L754.50,238.29 L756.50,238.62 L758.50,238.94 L760.50,239.24 L762.50,239.53 L764.50,239.80 L766.50,240.06 L768.50,240.31 L770.50,240.55 L772.50,240.77 L774.50,240.98 L776.50,241.18 L778.50,241.36 L780.50,241.53 L782.50,241.69 L784.50,241.84 L786.50,241.98 L788.50,242.10 L790.50,242.21 L792.50,242.31 L794.50,242.40 L796.50,242.48 L798.50,242.55 L800.50,242.60" fill="none" stroke="#000" stroke-width="1.5" stroke-linejoin="round" stroke-linecap="butt"/>
<line x1="483.75" y1="134.5" x2="800.5" y2="134.5" stroke="#ff0000" stroke-width="3"/>
<rect x="481" y="241.0" width="1" height="5" fill="#000"/>
<rect x="481" y="52.0" width="1" height="5" fill="#000"/>
<text x="483.40" y="267.70" font-size="14" text-anchor="middle" textLength="8.00" lengthAdjust="spacingAndGlyphs">0</text>
<rect x="518" y="241.0" width="1" height="5" fill="#000"/>
<rect x="518" y="52.0" width="1" height="5" fill="#000"/>
<text x="520.40" y="267.70" font-size="14" text-anchor="middle" textLength="16.00" lengthAdjust="spacingAndGlyphs">20</text>
<rect x="555" y="241.0" width="1" height="5" fill="#000"/>
<rect x="555" y="52.0" width="1" height="5" fill="#000"/>
<text x="557.40" y="267.70" font-size="14" text-anchor="middle" textLength="16.00" lengthAdjust="spacingAndGlyphs">40</text>
<rect x="593" y="241.0" width="1" height="5" fill="#000"/>
<rect x="593" y="52.0" width="1" height="5" fill="#000"/>
<text x="595.40" y="267.70" font-size="14" text-anchor="middle" textLength="16.00" lengthAdjust="spacingAndGlyphs">60</text>
<rect x="630" y="241.0" width="1" height="5" fill="#000"/>
<rect x="630" y="52.0" width="1" height="5" fill="#000"/>
<text x="632.40" y="267.70" font-size="14" text-anchor="middle" textLength="16.00" lengthAdjust="spacingAndGlyphs">80</text>
<rect x="667" y="241.0" width="1" height="5" fill="#000"/>
<rect x="667" y="52.0" width="1" height="5" fill="#000"/>
<text x="669.40" y="267.70" font-size="14" text-anchor="middle" textLength="24.00" lengthAdjust="spacingAndGlyphs">100</text>
<rect x="704" y="241.0" width="1" height="5" fill="#000"/>
<rect x="704" y="52.0" width="1" height="5" fill="#000"/>
<text x="706.40" y="267.70" font-size="14" text-anchor="middle" textLength="24.00" lengthAdjust="spacingAndGlyphs">120</text>
<rect x="742" y="241.0" width="1" height="5" fill="#000"/>
<rect x="742" y="52.0" width="1" height="5" fill="#000"/>
<text x="744.40" y="267.70" font-size="14" text-anchor="middle" textLength="24.00" lengthAdjust="spacingAndGlyphs">140</text>
<rect x="779" y="241.0" width="1" height="5" fill="#000"/>
<rect x="779" y="52.0" width="1" height="5" fill="#000"/>
<text x="781.40" y="267.70" font-size="14" text-anchor="middle" textLength="24.00" lengthAdjust="spacingAndGlyphs">160</text>
<rect x="816" y="241.0" width="1" height="5" fill="#000"/>
<rect x="816" y="52.0" width="1" height="5" fill="#000"/>
<text x="818.40" y="267.70" font-size="14" text-anchor="middle" textLength="24.00" lengthAdjust="spacingAndGlyphs">180</text>
<rect x="482.0" y="246" width="5" height="1" fill="#000"/>
<rect x="811.0" y="246" width="5" height="1" fill="#000"/>
<text x="473.00" y="250.90" font-size="14" text-anchor="end" textLength="21.00" lengthAdjust="spacingAndGlyphs">-40</text>
<rect x="482.0" y="218" width="5" height="1" fill="#000"/>
<rect x="811.0" y="218" width="5" height="1" fill="#000"/>
<text x="473.00" y="222.90" font-size="14" text-anchor="end" textLength="21.00" lengthAdjust="spacingAndGlyphs">-30</text>
<rect x="482.0" y="190" width="5" height="1" fill="#000"/>
<rect x="811.0" y="190" width="5" height="1" fill="#000"/>
<text x="473.00" y="194.90" font-size="14" text-anchor="end" textLength="21.00" lengthAdjust="spacingAndGlyphs">-20</text>
<rect x="482.0" y="162" width="5" height="1" fill="#000"/>
<rect x="811.0" y="162" width="5" height="1" fill="#000"/>
<text x="473.00" y="166.90" font-size="14" text-anchor="end" textLength="21.00" lengthAdjust="spacingAndGlyphs">-10</text>
<rect x="482.0" y="134" width="5" height="1" fill="#000"/>
<rect x="811.0" y="134" width="5" height="1" fill="#000"/>
<text x="473.00" y="138.90" font-size="14" text-anchor="end" textLength="8.00" lengthAdjust="spacingAndGlyphs">0</text>
<rect x="482.0" y="107" width="5" height="1" fill="#000"/>
<rect x="811.0" y="107" width="5" height="1" fill="#000"/>
<text x="473.00" y="111.90" font-size="14" text-anchor="end" textLength="16.00" lengthAdjust="spacingAndGlyphs">10</text>
<rect x="482.0" y="79" width="5" height="1" fill="#000"/>
<rect x="811.0" y="79" width="5" height="1" fill="#000"/>
<text x="473.00" y="83.90" font-size="14" text-anchor="end" textLength="16.00" lengthAdjust="spacingAndGlyphs">20</text>
<rect x="482.0" y="51" width="5" height="1" fill="#000"/>
<rect x="811.0" y="51" width="5" height="1" fill="#000"/>
<text x="473.00" y="55.90" font-size="14" text-anchor="end" textLength="16.00" lengthAdjust="spacingAndGlyphs">30</text>
<rect x="481.5" y="51.5" width="335.0" height="195.0" fill="none" stroke="#000" stroke-width="1.6"/>
<text x="648.30" y="30.80" font-size="13.7" text-anchor="middle" textLength="136.00" lengthAdjust="spacingAndGlyphs" font-weight="bold">Potential in liquid</text>
<text x="648.50" y="293.60" font-size="14" text-anchor="middle" textLength="43.00" lengthAdjust="spacingAndGlyphs">x (μm)</text>
<text x="438.40" y="149.00" font-size="14" text-anchor="middle" textLength="94.00" lengthAdjust="spacingAndGlyphs" transform="rotate(-90 438.40 149.00)">Potential (mV)</text>
<rect x="117" y="351.5" width="1" height="195.0" fill="rgba(0,0,0,0.137)"/>
<rect x="173" y="351.5" width="1" height="195.0" fill="rgba(0,0,0,0.137)"/>
<rect x="229" y="351.5" width="1" height="195.0" fill="rgba(0,0,0,0.137)"/>
<rect x="284" y="351.5" width="1" height="195.0" fill="rgba(0,0,0,0.137)"/>
<rect x="340" y="351.5" width="1" height="195.0" fill="rgba(0,0,0,0.137)"/>
<rect x="61.5" y="518" width="335.0" height="1" fill="rgba(0,0,0,0.137)"/>
<rect x="61.5" y="490" width="335.0" height="1" fill="rgba(0,0,0,0.137)"/>
<rect x="61.5" y="462" width="335.0" height="1" fill="rgba(0,0,0,0.137)"/>
<rect x="61.5" y="434" width="335.0" height="1" fill="rgba(0,0,0,0.137)"/>
<rect x="61.5" y="407" width="335.0" height="1" fill="rgba(0,0,0,0.137)"/>
<rect x="61.5" y="379" width="335.0" height="1" fill="rgba(0,0,0,0.137)"/>
<line x1="66.8" y1="374.7" x2="383.1" y2="374.7" stroke="#000" stroke-width="2.6"/>
<line x1="66.8" y1="379.4" x2="383.1" y2="379.4" stroke="#0000ff" stroke-width="3"/>
<path d="M66.80,408.50 L68.80,408.49 L70.80,408.49 L72.80,408.48 L74.80,408.47 L76.80,408.46 L78.80,408.45 L80.80,408.45 L82.80,408.44 L84.80,408.43 L86.80,408.42 L88.80,408.41 L90.80,408.41 L92.80,408.40 L94.80,408.39 L96.80,408.38 L98.80,408.37 L100.80,408.36 L102.80,408.35 L104.80,408.35 L106.80,408.34 L108.80,408.33 L110.80,408.32 L112.80,408.31 L114.80,408.30 L116.80,408.29 L118.80,408.28 L120.80,408.27 L122.80,408.26 L124.80,408.25 L126.80,408.24 L128.80,408.23 L130.80,408.22 L132.80,408.21 L134.80,408.20 L136.80,408.19 L138.80,408.18 L140.80,408.17 L142.80,408.16 L144.80,408.15 L146.80,408.13 L148.80,408.12 L150.80,408.11 L152.80,408.10 L154.80,408.09 L156.80,408.08 L158.80,408.07 L160.80,408.06 L162.80,408.04 L164.80,408.03 L166.80,408.02 L168.80,408.01 L170.80,408.00 L172.80,407.98 L174.80,407.97 L176.80,407.96 L178.80,407.95 L180.80,407.93 L182.80,407.92 L184.80,407.91 L186.80,407.89 L188.80,407.88 L190.80,407.87 L192.80,407.85 L194.80,407.84 L196.80,407.83 L198.80,407.81 L200.80,407.80 L202.80,407.79 L204.80,407.77 L206.80,407.76 L208.80,407.74 L210.80,407.73 L212.80,407.72 L214.80,407.70 L216.80,407.69 L218.80,407.67 L220.80,407.66 L222.80,407.64 L224.80,407.63 L226.80,407.61 L228.80,407.60 L230.80,407.58 L232.80,407.57 L234.80,407.55 L236.80,407.54 L238.80,407.52 L240.80,407.51 L242.80,407.49 L244.80,407.47 L246.80,407.46 L248.80,407.44 L250.80,407.42 L252.80,407.41 L254.80,407.39 L256.80,407.37 L258.80,407.36 L260.80,407.34 L262.80,407.32 L264.80,407.31 L266.80,407.29 L268.80,407.27 L270.80,407.26 L272.80,407.24 L274.80,407.22 L276.80,407.20 L278.80,407.18 L280.80,407.17 L282.80,407.15 L284.80,407.13 L286.80,407.11 L288.80,407.09 L290.80,407.08 L292.80,407.06 L294.80,407.04 L296.80,407.02 L298.80,407.00 L300.80,406.98 L302.80,406.96 L304.80,406.94 L306.80,406.92 L308.80,406.90 L310.80,406.88 L312.80,406.87 L314.80,406.85 L316.80,406.83 L318.80,406.81 L320.80,406.79 L322.80,406.76 L324.80,406.74 L326.80,406.72 L328.80,406.70 L330.80,406.68 L332.80,406.66 L334.80,406.64 L336.80,406.62 L338.80,406.60 L340.80,406.58 L342.80,406.56 L344.80,406.53 L346.80,406.51 L348.80,406.49 L350.80,406.47 L352.80,406.45 L354.80,406.43 L356.80,406.40 L358.80,406.38 L360.80,406.36 L362.80,406.34 L364.80,406.31 L366.80,406.29 L368.80,406.27 L370.80,406.24 L372.80,406.22 L374.80,406.20 L376.80,406.17 L378.80,406.15 L380.80,406.13 L382.80,406.10 L383.10,406.10" fill="none" stroke="#000" stroke-width="1.5" stroke-linejoin="round" stroke-linecap="butt"/>
<path d="M66.80,419.40 L200.00,419.40 L240.00,419.20 L251.00,418.90 L270.00,419.50 L296.00,420.50 L320.00,420.20 L383.10,420.20" fill="none" stroke="#000" stroke-width="1.5" stroke-linejoin="round" stroke-linecap="butt"/>
<path d="M66.80,435.40 L68.80,435.39 L70.80,435.39 L72.80,435.38 L74.80,435.38 L76.80,435.37 L78.80,435.36 L80.80,435.36 L82.80,435.35 L84.80,435.34 L86.80,435.33 L88.80,435.33 L90.80,435.32 L92.80,435.31 L94.80,435.30 L96.80,435.29 L98.80,435.29 L100.80,435.28 L102.80,435.27 L104.80,435.26 L106.80,435.25 L108.80,435.24 L110.80,435.23 L112.80,435.22 L114.80,435.21 L116.80,435.20 L118.80,435.19 L120.80,435.18 L122.80,435.17 L124.80,435.16 L126.80,435.15 L128.80,435.13 L130.80,435.12 L132.80,435.11 L134.80,435.10 L136.80,435.09 L138.80,435.08 L140.80,435.06 L142.80,435.05 L144.80,435.04 L146.80,435.03 L148.80,435.01 L150.80,435.00 L152.80,434.99 L154.80,434.97 L156.80,434.96 L158.80,434.95 L160.80,434.93 L162.80,434.92 L164.80,434.90 L166.80,434.89 L168.80,434.88 L170.80,434.86 L172.80,434.85 L174.80,434.83 L176.80,434.82 L178.80,434.80 L180.80,434.79 L182.80,434.77 L184.80,434.76 L186.80,434.74 L188.80,434.73 L190.80,434.71 L192.80,434.69 L194.80,434.68 L196.80,434.66 L198.80,434.64 L200.80,434.63 L202.80,434.61 L204.80,434.60 L206.80,434.58 L208.80,434.56 L210.80,434.54 L212.80,434.53 L214.80,434.51 L216.80,434.49 L218.80,434.48 L220.80,434.46 L222.80,434.44 L224.80,434.42 L226.80,434.40 L228.80,434.39 L230.80,434.37 L232.80,434.35 L234.80,434.33 L236.80,434.31 L238.80,434.30 L240.80,434.28 L242.80,434.26 L244.80,434.24 L246.80,434.22 L248.80,434.20 L250.80,434.18 L252.80,434.16 L254.80,434.14 L256.80,434.13 L258.80,434.11 L260.80,434.09 L262.80,434.07 L264.80,434.05 L266.80,434.03 L268.80,434.01 L270.80,433.99 L272.80,433.97 L274.80,433.95 L276.80,433.93 L278.80,433.91 L280.80,433.89 L282.80,433.87 L284.80,433.85 L286.80,433.83 L288.80,433.81 L290.80,433.79 L292.80,433.77 L294.80,433.75 L296.80,433.73 L298.80,433.70 L300.80,433.68 L302.80,433.66 L304.80,433.64 L306.80,433.62 L308.80,433.60 L310.80,433.58 L312.80,433.56 L314.80,433.54 L316.80,433.52 L318.80,433.50 L320.80,433.47 L322.80,433.45 L324.80,433.43 L326.80,433.41 L328.80,433.39 L330.80,433.37 L332.80,433.35 L334.80,433.32 L336.80,433.30 L338.80,433.28 L340.80,433.26 L342.80,433.24 L344.80,433.22 L346.80,433.20 L348.80,433.17 L350.80,433.15 L352.80,433.13 L354.80,433.11 L356.80,433.09 L358.80,433.07 L360.80,433.04 L362.80,433.02 L364.80,433.00 L366.80,432.98 L368.80,432.96 L370.80,432.93 L372.80,432.91 L374.80,432.89 L376.80,432.87 L378.80,432.85 L380.80,432.83 L382.80,432.80 L383.10,432.80" fill="none" stroke="#000" stroke-width="1.5" stroke-linejoin="round" stroke-linecap="butt"/>
<path d="M66.80,462.70 L68.80,462.69 L70.80,462.67 L72.80,462.66 L74.80,462.65 L76.80,462.64 L78.80,462.63 L80.80,462.62 L82.80,462.61 L84.80,462.60 L86.80,462.60 L88.80,462.59 L90.80,462.59 L92.80,462.58 L94.80,462.58 L96.80,462.57 L98.80,462.57 L100.80,462.57 L102.80,462.57 L104.80,462.57 L106.80,462.57 L108.80,462.57 L110.80,462.57 L112.80,462.57 L114.80,462.57 L116.80,462.57 L118.80,462.58 L120.80,462.58 L122.80,462.59 L124.80,462.59 L126.80,462.60 L128.80,462.60 L130.80,462.61 L132.80,462.62 L134.80,462.63 L136.80,462.63 L138.80,462.64 L140.80,462.65 L142.80,462.66 L144.80,462.67 L146.80,462.68 L148.80,462.69 L150.80,462.71 L152.80,462.72 L154.80,462.73 L156.80,462.74 L158.80,462.76 L160.80,462.77 L162.80,462.78 L164.80,462.80 L166.80,462.81 L168.80,462.83 L170.80,462.84 L172.80,462.86 L174.80,462.87 L176.80,462.89 L178.80,462.91 L180.80,462.92 L182.80,462.94 L184.80,462.96 L186.80,462.98 L188.80,462.99 L190.80,463.01 L192.80,463.03 L194.80,463.05 L196.80,463.07 L198.80,463.09 L200.80,463.11 L202.80,463.12 L204.80,463.14 L206.80,463.16 L208.80,463.18 L210.80,463.20 L212.80,463.22 L214.80,463.24 L216.80,463.26 L218.80,463.28 L220.80,463.30 L222.80,463.33 L224.80,463.35 L226.80,463.37 L228.80,463.39 L230.80,463.41 L232.80,463.43 L234.80,463.45 L236.80,463.47 L238.80,463.49 L240.80,463.51 L242.80,463.53 L244.80,463.55 L246.80,463.58 L248.80,463.60 L250.80,463.62 L252.80,463.64 L254.80,463.66 L256.80,463.68 L258.80,463.70 L260.80,463.72 L262.80,463.74 L264.80,463.76 L266.80,463.78 L268.80,463.80 L270.80,463.82 L272.80,463.84 L274.80,463.86 L276.80,463.88 L278.80,463.90 L280.80,463.92 L282.80,463.93 L284.80,463.95 L286.80,463.97 L288.80,463.99 L290.80,464.01 L292.80,464.02 L294.80,464.04 L296.80,464.06 L298.80,464.08 L300.80,464.09 L302.80,464.11 L304.80,464.12 L306.80,464.14 L308.80,464.15 L310.80,464.17 L312.80,464.18 L314.80,464.20 L316.80,464.21 L318.80,464.23 L320.80,464.24 L322.80,464.25 L324.80,464.26 L326.80,464.28 L328.80,464.29 L330.80,464.30 L332.80,464.31 L334.80,464.32 L336.80,464.33 L338.80,464.34 L340.80,464.35 L342.80,464.35 L344.80,464.36 L346.80,464.37 L348.80,464.38 L350.80,464.38 L352.80,464.39 L354.80,464.39 L356.80,464.40 L358.80,464.40 L360.80,464.40 L362.80,464.41 L364.80,464.41 L366.80,464.41 L368.80,464.41 L370.80,464.41 L372.80,464.41 L374.80,464.41 L376.80,464.41 L378.80,464.41 L380.80,464.40 L382.80,464.40 L383.10,464.40" fill="none" stroke="#000" stroke-width="1.6" stroke-linejoin="round" stroke-linecap="butt"/>
<path d="M66.80,467.10 L68.80,467.11 L70.80,467.12 L72.80,467.13 L74.80,467.14 L76.80,467.14 L78.80,467.15 L80.80,467.16 L82.80,467.16 L84.80,467.16 L86.80,467.17 L88.80,467.17 L90.80,467.17 L92.80,467.17 L94.80,467.17 L96.80,467.17 L98.80,467.16 L100.80,467.16 L102.80,467.15 L104.80,467.15 L106.80,467.14 L108.80,467.14 L110.80,467.13 L112.80,467.12 L114.80,467.11 L116.80,467.11 L118.80,467.10 L120.80,467.08 L122.80,467.07 L124.80,467.06 L126.80,467.05 L128.80,467.04 L130.80,467.02 L132.80,467.01 L134.80,466.99 L136.80,466.98 L138.80,466.96 L140.80,466.95 L142.80,466.93 L144.80,466.91 L146.80,466.90 L148.80,466.88 L150.80,466.86 L152.80,466.84 L154.80,466.82 L156.80,466.80 L158.80,466.78 L160.80,466.76 L162.80,466.74 L164.80,466.72 L166.80,466.70 L168.80,466.68 L170.80,466.66 L172.80,466.63 L174.80,466.61 L176.80,466.59 L178.80,466.57 L180.80,466.54 L182.80,466.52 L184.80,466.50 L186.80,466.47 L188.80,466.45 L190.80,466.43 L192.80,466.40 L194.80,466.38 L196.80,466.36 L198.80,466.33 L200.80,466.31 L202.80,466.28 L204.80,466.26 L206.80,466.24 L208.80,466.21 L210.80,466.19 L212.80,466.16 L214.80,466.14 L216.80,466.11 L218.80,466.09 L220.80,466.07 L222.80,466.04 L224.80,466.02 L226.80,466.00 L228.80,465.97 L230.80,465.95 L232.80,465.93 L234.80,465.90 L236.80,465.88 L238.80,465.86 L240.80,465.84 L242.80,465.82 L244.80,465.79 L246.80,465.77 L248.80,465.75 L250.80,465.73 L252.80,465.71 L254.80,465.69 L256.80,465.67 L258.80,465.65 L260.80,465.63 L262.80,465.61 L264.80,465.60 L266.80,465.58 L268.80,465.56 L270.80,465.54 L272.80,465.53 L274.80,465.51 L276.80,465.50 L278.80,465.48 L280.80,465.47 L282.80,465.45 L284.80,465.44 L286.80,465.43 L288.80,465.42 L290.80,465.41 L292.80,465.39 L294.80,465.38 L296.80,465.38 L298.80,465.37 L300.80,465.36 L302.80,465.35 L304.80,465.34 L306.80,465.34 L308.80,465.33 L310.80,465.33 L312.80,465.33 L314.80,465.32 L316.80,465.32 L318.80,465.32 L320.80,465.32 L322.80,465.32 L324.80,465.32 L326.80,465.32 L328.80,465.33 L330.80,465.33 L332.80,465.33 L334.80,465.34 L336.80,465.35 L338.80,465.35 L340.80,465.36 L342.80,465.37 L344.80,465.38 L346.80,465.39 L348.80,465.41 L350.80,465.42 L352.80,465.44 L354.80,465.45 L356.80,465.47 L358.80,465.49 L360.80,465.51 L362.80,465.53 L364.80,465.55 L366.80,465.57 L368.80,465.59 L370.80,465.62 L372.80,465.65 L374.80,465.67 L376.80,465.70 L378.80,465.73 L380.80,465.76 L382.80,465.79 L383.10,465.80" fill="none" stroke="#000" stroke-width="1.5" stroke-linejoin="round" stroke-linecap="butt"/>
<path d="M66.80,506.30 L225.00,506.30 L257.40,506.90 L271.60,506.10 L291.80,506.90 L310.00,506.10 L330.30,506.90 L360.00,507.00 L383.10,507.10" fill="none" stroke="#000" stroke-width="1.5" stroke-linejoin="round" stroke-linecap="butt"/>
<line x1="66.8" y1="532.4" x2="383.1" y2="532.4" stroke="#ff0000" stroke-width="3"/>
<line x1="66.8" y1="535.3" x2="383.1" y2="535.3" stroke="#000" stroke-width="2.1"/>
<line x1="66.8" y1="538.5" x2="383.1" y2="538.5" stroke="#000" stroke-width="1.5"/>
<rect x="61" y="541.0" width="1" height="5" fill="#000"/>
<rect x="61" y="352.0" width="1" height="5" fill="#000"/>
<text x="63.40" y="567.70" font-size="14" text-anchor="middle" textLength="8.00" lengthAdjust="spacingAndGlyphs">0</text>
<rect x="117" y="541.0" width="1" height="5" fill="#000"/>
<rect x="117" y="352.0" width="1" height="5" fill="#000"/>
<text x="119.40" y="567.70" font-size="14" text-anchor="middle" textLength="8.00" lengthAdjust="spacingAndGlyphs">1</text>
<rect x="173" y="541.0" width="1" height="5" fill="#000"/>
<rect x="173" y="352.0" width="1" height="5" fill="#000"/>
<text x="175.40" y="567.70" font-size="14" text-anchor="middle" textLength="8.00" lengthAdjust="spacingAndGlyphs">2</text>
<rect x="229" y="541.0" width="1" height="5" fill="#000"/>
<rect x="229" y="352.0" width="1" height="5" fill="#000"/>
<text x="231.40" y="567.70" font-size="14" text-anchor="middle" textLength="8.00" lengthAdjust="spacingAndGlyphs">3</text>
<rect x="284" y="541.0" width="1" height="5" fill="#000"/>
<rect x="284" y="352.0" width="1" height="5" fill="#000"/>
<text x="286.40" y="567.70" font-size="14" text-anchor="middle" textLength="8.00" lengthAdjust="spacingAndGlyphs">4</text>
<rect x="340" y="541.0" width="1" height="5" fill="#000"/>
<rect x="340" y="352.0" width="1" height="5" fill="#000"/>
<text x="342.40" y="567.70" font-size="14" text-anchor="middle" textLength="8.00" lengthAdjust="spacingAndGlyphs">5</text>
<rect x="396" y="541.0" width="1" height="5" fill="#000"/>
<rect x="396" y="352.0" width="1" height="5" fill="#000"/>
<text x="398.40" y="567.70" font-size="14" text-anchor="middle" textLength="8.00" lengthAdjust="spacingAndGlyphs">6</text>
<rect x="62.0" y="546" width="5" height="1" fill="#000"/>
<rect x="391.0" y="546" width="5" height="1" fill="#000"/>
<text x="53.00" y="550.90" font-size="14" text-anchor="end" textLength="8.00" lengthAdjust="spacingAndGlyphs">0</text>
<rect x="62.0" y="518" width="5" height="1" fill="#000"/>
<rect x="391.0" y="518" width="5" height="1" fill="#000"/>
<text x="53.00" y="522.90" font-size="14" text-anchor="end" textLength="8.00" lengthAdjust="spacingAndGlyphs">5</text>
<rect x="62.0" y="490" width="5" height="1" fill="#000"/>
<rect x="391.0" y="490" width="5" height="1" fill="#000"/>
<text x="53.00" y="494.90" font-size="14" text-anchor="end" textLength="16.00" lengthAdjust="spacingAndGlyphs">10</text>
<rect x="62.0" y="462" width="5" height="1" fill="#000"/>
<rect x="391.0" y="462" width="5" height="1" fill="#000"/>
<text x="53.00" y="466.90" font-size="14" text-anchor="end" textLength="16.00" lengthAdjust="spacingAndGlyphs">15</text>
<rect x="62.0" y="434" width="5" height="1" fill="#000"/>
<rect x="391.0" y="434" width="5" height="1" fill="#000"/>
<text x="53.00" y="438.90" font-size="14" text-anchor="end" textLength="16.00" lengthAdjust="spacingAndGlyphs">20</text>
<rect x="62.0" y="407" width="5" height="1" fill="#000"/>
<rect x="391.0" y="407" width="5" height="1" fill="#000"/>
<text x="53.00" y="411.90" font-size="14" text-anchor="end" textLength="16.00" lengthAdjust="spacingAndGlyphs">25</text>
<rect x="62.0" y="379" width="5" height="1" fill="#000"/>
<rect x="391.0" y="379" width="5" height="1" fill="#000"/>
<text x="53.00" y="383.90" font-size="14" text-anchor="end" textLength="16.00" lengthAdjust="spacingAndGlyphs">30</text>
<rect x="62.0" y="351" width="5" height="1" fill="#000"/>
<rect x="391.0" y="351" width="5" height="1" fill="#000"/>
<text x="53.00" y="355.90" font-size="14" text-anchor="end" textLength="16.00" lengthAdjust="spacingAndGlyphs">35</text>
<rect x="61.5" y="351.5" width="335.0" height="195.0" fill="none" stroke="#000" stroke-width="1.6"/>
<text x="228.30" y="330.80" font-size="13.7" text-anchor="middle" textLength="344.00" lengthAdjust="spacingAndGlyphs" font-weight="bold">Concentration in solid in the middle of Anode</text>
<text x="228.50" y="593.60" font-size="14" text-anchor="middle" textLength="40.00" lengthAdjust="spacingAndGlyphs">r (μm)</text>
<g transform="translate(18.00 530.00) rotate(-90)">
<text x="0.00" y="0.00" font-size="14" text-anchor="start" textLength="150.00" lengthAdjust="spacingAndGlyphs">Concentration (mol/dm</text>
<text x="150.00" y="-6.40" font-size="11.200000000000001" text-anchor="start" textLength="7.00" lengthAdjust="spacingAndGlyphs">3</text>
<text x="157.00" y="0.00" font-size="14" text-anchor="start" textLength="5.00" lengthAdjust="spacingAndGlyphs">)</text>
</g>
<rect x="537" y="351.5" width="1" height="195.0" fill="rgba(0,0,0,0.137)"/>
<rect x="593" y="351.5" width="1" height="195.0" fill="rgba(0,0,0,0.137)"/>
<rect x="649" y="351.5" width="1" height="195.0" fill="rgba(0,0,0,0.137)"/>
<rect x="704" y="351.5" width="1" height="195.0" fill="rgba(0,0,0,0.137)"/>
<rect x="760" y="351.5" width="1" height="195.0" fill="rgba(0,0,0,0.137)"/>
<rect x="481.5" y="521" width="335.0" height="1" fill="rgba(0,0,0,0.137)"/>
<rect x="481.5" y="497" width="335.0" height="1" fill="rgba(0,0,0,0.137)"/>
<rect x="481.5" y="473" width="335.0" height="1" fill="rgba(0,0,0,0.137)"/>
<rect x="481.5" y="448" width="335.0" height="1" fill="rgba(0,0,0,0.137)"/>
<rect x="481.5" y="424" width="335.0" height="1" fill="rgba(0,0,0,0.137)"/>
<rect x="481.5" y="400" width="335.0" height="1" fill="rgba(0,0,0,0.137)"/>
<rect x="481.5" y="375" width="335.0" height="1" fill="rgba(0,0,0,0.137)"/>
<line x1="486.0" y1="361.5" x2="767.6" y2="361.5" stroke="#000" stroke-width="1.5"/>
<line x1="486.0" y1="364.6" x2="767.6" y2="364.6" stroke="#000" stroke-width="2.0"/>
<line x1="485.5" y1="367.5" x2="767.6" y2="367.5" stroke="#ff0000" stroke-width="3"/>
<path d="M485.50,401.50 L487.50,401.47 L489.50,401.44 L491.50,401.41 L493.50,401.38 L495.50,401.35 L497.50,401.32 L499.50,401.29 L501.50,401.26 L503.50,401.23 L505.50,401.20 L507.50,401.18 L509.50,401.15 L511.50,401.12 L513.50,401.09 L515.50,401.07 L517.50,401.04 L519.50,401.01 L521.50,400.98 L523.50,400.96 L525.50,400.93 L527.50,400.90 L529.50,400.88 L531.50,400.85 L533.50,400.83 L535.50,400.80 L537.50,400.77 L539.50,400.75 L541.50,400.72 L543.50,400.70 L545.50,400.67 L547.50,400.64 L549.50,400.62 L551.50,400.59 L553.50,400.57 L555.50,400.54 L557.50,400.52 L559.50,400.49 L561.50,400.47 L563.50,400.44 L565.50,400.41 L567.50,400.39 L569.50,400.36 L571.50,400.34 L573.50,400.31 L575.50,400.28 L577.50,400.26 L579.50,400.23 L581.50,400.20 L583.50,400.18 L585.50,400.15 L587.50,400.12 L589.50,400.10 L591.50,400.07 L593.50,400.04 L595.50,400.01 L597.50,399.99 L599.50,399.96 L601.50,399.93 L603.50,399.90 L605.50,399.87 L607.50,399.84 L609.50,399.81 L611.50,399.78 L613.50,399.75 L615.50,399.72 L617.50,399.69 L619.50,399.66 L621.50,399.63 L623.50,399.60 L625.50,399.57 L627.50,399.53 L629.50,399.50 L631.50,399.47 L633.50,399.43 L635.50,399.40 L637.50,399.37 L639.50,399.33 L641.50,399.30 L643.50,399.26 L645.50,399.22 L647.50,399.19 L649.50,399.15 L651.50,399.11 L653.50,399.08 L655.50,399.04 L657.50,399.00 L659.50,398.96 L661.50,398.92 L663.50,398.88 L665.50,398.84 L667.50,398.80 L669.50,398.75 L671.50,398.71 L673.50,398.67 L675.50,398.62 L677.50,398.58 L679.50,398.54 L681.50,398.49 L683.50,398.44 L685.50,398.40 L687.50,398.35 L689.50,398.30 L691.50,398.25 L693.50,398.20 L695.50,398.15 L697.50,398.10 L699.50,398.05 L701.50,398.00 L703.50,397.94 L705.50,397.89 L707.50,397.84 L709.50,397.78 L711.50,397.72 L713.50,397.67 L715.50,397.61 L717.50,397.55 L719.50,397.49 L721.50,397.43 L723.50,397.37 L725.50,397.31 L727.50,397.25 L729.50,397.18 L731.50,397.12 L733.50,397.05 L735.50,396.99 L737.50,396.92 L739.50,396.85 L741.50,396.78 L743.50,396.71 L745.50,396.64 L747.50,396.57 L749.50,396.50 L751.50,396.43 L753.50,396.35 L755.50,396.28 L757.50,396.20 L759.50,396.12 L761.50,396.05 L763.50,395.97 L765.50,395.89 L767.50,395.80 L767.60,395.80" fill="none" stroke="#000" stroke-width="1.5" stroke-linejoin="round" stroke-linecap="butt"/>
<path d="M485.50,429.20 L487.50,429.23 L489.50,429.25 L491.50,429.28 L493.50,429.30 L495.50,429.33 L497.50,429.36 L499.50,429.38 L501.50,429.41 L503.50,429.44 L505.50,429.47 L507.50,429.50 L509.50,429.53 L511.50,429.57 L513.50,429.60 L515.50,429.63 L517.50,429.67 L519.50,429.70 L521.50,429.74 L523.50,429.77 L525.50,429.81 L527.50,429.85 L529.50,429.89 L531.50,429.93 L533.50,429.97 L535.50,430.01 L537.50,430.05 L539.50,430.10 L541.50,430.14 L543.50,430.19 L545.50,430.24 L547.50,430.29 L549.50,430.34 L551.50,430.39 L553.50,430.44 L555.50,430.50 L557.50,430.55 L559.50,430.61 L561.50,430.66 L563.50,430.72 L565.50,430.78 L567.50,430.85 L569.50,430.91 L571.50,430.97 L573.50,431.04 L575.50,431.11 L577.50,431.18 L579.50,431.25 L581.50,431.32 L583.50,431.40 L585.50,431.47 L587.50,431.55 L589.50,431.63 L591.50,431.71 L593.50,431.79 L595.50,431.88 L597.50,431.96 L599.50,432.05 L601.50,432.14 L603.50,432.23 L605.50,432.33 L607.50,432.42 L609.50,432.52 L611.50,432.62 L613.50,432.72 L615.50,432.82 L617.50,432.93 L619.50,433.04 L621.50,433.15 L623.50,433.26 L625.50,433.37 L627.50,433.49 L629.50,433.61 L631.50,433.73 L633.50,433.85 L635.50,433.98 L637.50,434.10 L639.50,434.23 L641.50,434.37 L643.50,434.50 L645.50,434.64 L647.50,434.78 L649.50,434.92 L651.50,435.06 L653.50,435.21 L655.50,435.36 L657.50,435.51 L659.50,435.66 L661.50,435.82 L663.50,435.98 L665.50,436.14 L667.50,436.30 L669.50,436.46 L671.50,436.62 L673.50,436.79 L675.50,436.96 L677.50,437.13 L679.50,437.30 L681.50,437.47 L683.50,437.65 L685.50,437.82 L687.50,438.00 L689.50,438.18 L691.50,438.35 L693.50,438.53 L695.50,438.71 L697.50,438.89 L699.50,439.08 L701.50,439.26 L703.50,439.44 L705.50,439.63 L707.50,439.81 L709.50,439.99 L711.50,440.18 L713.50,440.36 L715.50,440.55 L717.50,440.73 L719.50,440.92 L721.50,441.11 L723.50,441.29 L725.50,441.48 L727.50,441.66 L729.50,441.84 L731.50,442.03 L733.50,442.21 L735.50,442.39 L737.50,442.58 L739.50,442.76 L741.50,442.94 L743.50,443.12 L745.50,443.30 L747.50,443.48 L749.50,443.66 L751.50,443.83 L753.50,444.01 L755.50,444.18 L757.50,444.35 L759.50,444.52 L761.50,444.69 L763.50,444.86 L765.50,445.03 L767.50,445.19 L767.60,445.20" fill="none" stroke="#000" stroke-width="1.5" stroke-linejoin="round" stroke-linecap="butt"/>
<path d="M485.50,450.40 L487.50,450.39 L489.50,450.38 L491.50,450.37 L493.50,450.35 L495.50,450.34 L497.50,450.33 L499.50,450.31 L501.50,450.30 L503.50,450.28 L505.50,450.27 L507.50,450.25 L509.50,450.23 L511.50,450.21 L513.50,450.20 L515.50,450.18 L517.50,450.16 L519.50,450.14 L521.50,450.12 L523.50,450.09 L525.50,450.07 L527.50,450.05 L529.50,450.03 L531.50,450.00 L533.50,449.98 L535.50,449.95 L537.50,449.93 L539.50,449.90 L541.50,449.88 L543.50,449.85 L545.50,449.82 L547.50,449.79 L549.50,449.77 L551.50,449.74 L553.50,449.71 L555.50,449.68 L557.50,449.65 L559.50,449.62 L561.50,449.59 L563.50,449.56 L565.50,449.52 L567.50,449.49 L569.50,449.46 L571.50,449.42 L573.50,449.39 L575.50,449.36 L577.50,449.32 L579.50,449.29 L581.50,449.25 L583.50,449.21 L585.50,449.18 L587.50,449.14 L589.50,449.10 L591.50,449.07 L593.50,449.03 L595.50,448.99 L597.50,448.95 L599.50,448.91 L601.50,448.87 L603.50,448.83 L605.50,448.79 L607.50,448.75 L609.50,448.71 L611.50,448.67 L613.50,448.63 L615.50,448.59 L617.50,448.54 L619.50,448.50 L621.50,448.46 L623.50,448.42 L625.50,448.37 L627.50,448.33 L629.50,448.28 L631.50,448.24 L633.50,448.19 L635.50,448.15 L637.50,448.10 L639.50,448.06 L641.50,448.01 L643.50,447.97 L645.50,447.92 L647.50,447.87 L649.50,447.83 L651.50,447.78 L653.50,447.73 L655.50,447.69 L657.50,447.64 L659.50,447.59 L661.50,447.54 L663.50,447.49 L665.50,447.44 L667.50,447.40 L669.50,447.35 L671.50,447.30 L673.50,447.25 L675.50,447.20 L677.50,447.15 L679.50,447.10 L681.50,447.05 L683.50,447.00 L685.50,446.95 L687.50,446.90 L689.50,446.85 L691.50,446.80 L693.50,446.74 L695.50,446.69 L697.50,446.64 L699.50,446.59 L701.50,446.54 L703.50,446.49 L705.50,446.43 L707.50,446.38 L709.50,446.33 L711.50,446.28 L713.50,446.23 L715.50,446.17 L717.50,446.12 L719.50,446.07 L721.50,446.02 L723.50,445.96 L725.50,445.91 L727.50,445.86 L729.50,445.81 L731.50,445.75 L733.50,445.70 L735.50,445.65 L737.50,445.60 L739.50,445.54 L741.50,445.49 L743.50,445.44 L745.50,445.38 L747.50,445.33 L749.50,445.28 L751.50,445.23 L753.50,445.17 L755.50,445.12 L757.50,445.07 L759.50,445.01 L761.50,444.96 L763.50,444.91 L765.50,444.86 L767.50,444.80 L767.60,444.80" fill="none" stroke="#000" stroke-width="1.5" stroke-linejoin="round" stroke-linecap="butt"/>
<path d="M485.50,461.90 L487.50,461.86 L489.50,461.82 L491.50,461.78 L493.50,461.74 L495.50,461.70 L497.50,461.65 L499.50,461.60 L501.50,461.55 L503.50,461.50 L505.50,461.45 L507.50,461.40 L509.50,461.34 L511.50,461.29 L513.50,461.23 L515.50,461.17 L517.50,461.10 L519.50,461.04 L521.50,460.97 L523.50,460.90 L525.50,460.83 L527.50,460.76 L529.50,460.69 L531.50,460.61 L533.50,460.53 L535.50,460.45 L537.50,460.37 L539.50,460.29 L541.50,460.20 L543.50,460.12 L545.50,460.03 L547.50,459.93 L549.50,459.84 L551.50,459.74 L553.50,459.65 L555.50,459.55 L557.50,459.44 L559.50,459.34 L561.50,459.23 L563.50,459.12 L565.50,459.01 L567.50,458.90 L569.50,458.78 L571.50,458.66 L573.50,458.54 L575.50,458.42 L577.50,458.29 L579.50,458.17 L581.50,458.04 L583.50,457.90 L585.50,457.77 L587.50,457.63 L589.50,457.49 L591.50,457.35 L593.50,457.20 L595.50,457.06 L597.50,456.91 L599.50,456.75 L601.50,456.60 L603.50,456.44 L605.50,456.28 L607.50,456.11 L609.50,455.94 L611.50,455.77 L613.50,455.59 L615.50,455.41 L617.50,455.22 L619.50,455.03 L621.50,454.84 L623.50,454.64 L625.50,454.44 L627.50,454.23 L629.50,454.02 L631.50,453.80 L633.50,453.58 L635.50,453.35 L637.50,453.12 L639.50,452.89 L641.50,452.65 L643.50,452.42 L645.50,452.19 L647.50,451.96 L649.50,451.73 L651.50,451.50 L653.50,451.27 L655.50,451.05 L657.50,450.83 L659.50,450.61 L661.50,450.39 L663.50,450.17 L665.50,449.94 L667.50,449.72 L669.50,449.50 L671.50,449.28 L673.50,449.05 L675.50,448.83 L677.50,448.60 L679.50,448.37 L681.50,448.13 L683.50,447.90 L685.50,447.65 L687.50,447.41 L689.50,447.16 L691.50,446.90 L693.50,446.64 L695.50,446.38 L697.50,446.10 L699.50,445.82 L701.50,445.54 L703.50,445.25 L705.50,444.95 L707.50,444.64 L709.50,444.33 L711.50,444.00 L713.50,443.68 L715.50,443.35 L717.50,443.01 L719.50,442.67 L721.50,442.32 L723.50,441.97 L725.50,441.62 L727.50,441.27 L729.50,440.91 L731.50,440.55 L733.50,440.19 L735.50,439.83 L737.50,439.47 L739.50,439.11 L741.50,438.76 L743.50,438.40 L745.50,438.05 L747.50,437.69 L749.50,437.34 L751.50,437.00 L753.50,436.66 L755.50,436.32 L757.50,435.99 L759.50,435.66 L761.50,435.34 L763.50,435.02 L765.50,434.72 L767.50,434.41 L767.60,434.40" fill="none" stroke="#000" stroke-width="1.5" stroke-linejoin="round" stroke-linecap="butt"/>
<path d="M485.50,462.90 L487.50,462.92 L489.50,462.94 L491.50,462.96 L493.50,462.98 L495.50,463.00 L497.50,463.02 L499.50,463.05 L501.50,463.07 L503.50,463.10 L505.50,463.13 L507.50,463.16 L509.50,463.19 L511.50,463.22 L513.50,463.25 L515.50,463.29 L517.50,463.32 L519.50,463.36 L521.50,463.39 L523.50,463.43 L525.50,463.47 L527.50,463.51 L529.50,463.56 L531.50,463.60 L533.50,463.64 L535.50,463.69 L537.50,463.74 L539.50,463.79 L541.50,463.84 L543.50,463.89 L545.50,463.94 L547.50,463.99 L549.50,464.05 L551.50,464.11 L553.50,464.16 L555.50,464.22 L557.50,464.28 L559.50,464.34 L561.50,464.41 L563.50,464.47 L565.50,464.54 L567.50,464.60 L569.50,464.67 L571.50,464.74 L573.50,464.81 L575.50,464.89 L577.50,464.96 L579.50,465.04 L581.50,465.11 L583.50,465.19 L585.50,465.27 L587.50,465.35 L589.50,465.43 L591.50,465.52 L593.50,465.60 L595.50,465.69 L597.50,465.78 L599.50,465.87 L601.50,465.96 L603.50,466.05 L605.50,466.14 L607.50,466.24 L609.50,466.34 L611.50,466.43 L613.50,466.53 L615.50,466.63 L617.50,466.74 L619.50,466.84 L621.50,466.95 L623.50,467.06 L625.50,467.16 L627.50,467.27 L629.50,467.39 L631.50,467.50 L633.50,467.62 L635.50,467.73 L637.50,467.85 L639.50,467.97 L641.50,468.09 L643.50,468.21 L645.50,468.34 L647.50,468.47 L649.50,468.59 L651.50,468.72 L653.50,468.85 L655.50,468.99 L657.50,469.12 L659.50,469.26 L661.50,469.39 L663.50,469.53 L665.50,469.67 L667.50,469.82 L669.50,469.96 L671.50,470.11 L673.50,470.25 L675.50,470.40 L677.50,470.55 L679.50,470.71 L681.50,470.86 L683.50,471.02 L685.50,471.17 L687.50,471.33 L689.50,471.49 L691.50,471.66 L693.50,471.82 L695.50,471.99 L697.50,472.16 L699.50,472.33 L701.50,472.50 L703.50,472.67 L705.50,472.85 L707.50,473.02 L709.50,473.20 L711.50,473.38 L713.50,473.56 L715.50,473.75 L717.50,473.93 L719.50,474.12 L721.50,474.31 L723.50,474.50 L725.50,474.70 L727.50,474.89 L729.50,475.09 L731.50,475.29 L733.50,475.49 L735.50,475.69 L737.50,475.89 L739.50,476.10 L741.50,476.31 L743.50,476.52 L745.50,476.73 L747.50,476.94 L749.50,477.16 L751.50,477.38 L753.50,477.60 L755.50,477.82 L757.50,478.04 L759.50,478.27 L761.50,478.49 L763.50,478.72 L765.50,478.96 L767.50,479.19 L767.60,479.20" fill="none" stroke="#000" stroke-width="1.5" stroke-linejoin="round" stroke-linecap="butt"/>
<path d="M485.50,493.50 L487.50,493.50 L489.50,493.50 L491.50,493.51 L493.50,493.51 L495.50,493.52 L497.50,493.53 L499.50,493.54 L501.50,493.55 L503.50,493.56 L505.50,493.58 L507.50,493.60 L509.50,493.62 L511.50,493.64 L513.50,493.66 L515.50,493.68 L517.50,493.71 L519.50,493.74 L521.50,493.77 L523.50,493.80 L525.50,493.83 L527.50,493.87 L529.50,493.90 L531.50,493.94 L533.50,493.98 L535.50,494.02 L537.50,494.06 L539.50,494.11 L541.50,494.15 L543.50,494.20 L545.50,494.25 L547.50,494.30 L549.50,494.36 L551.50,494.41 L553.50,494.47 L555.50,494.52 L557.50,494.58 L559.50,494.65 L561.50,494.71 L563.50,494.77 L565.50,494.84 L567.50,494.91 L569.50,494.98 L571.50,495.05 L573.50,495.12 L575.50,495.20 L577.50,495.27 L579.50,495.35 L581.50,495.43 L583.50,495.51 L585.50,495.59 L587.50,495.68 L589.50,495.76 L591.50,495.85 L593.50,495.94 L595.50,496.03 L597.50,496.12 L599.50,496.22 L601.50,496.31 L603.50,496.41 L605.50,496.51 L607.50,496.61 L609.50,496.71 L611.50,496.82 L613.50,496.92 L615.50,497.03 L617.50,497.14 L619.50,497.25 L621.50,497.36 L623.50,497.48 L625.50,497.59 L627.50,497.71 L629.50,497.83 L631.50,497.95 L633.50,498.07 L635.50,498.19 L637.50,498.32 L639.50,498.44 L641.50,498.57 L643.50,498.70 L645.50,498.83 L647.50,498.97 L649.50,499.10 L651.50,499.24 L653.50,499.37 L655.50,499.51 L657.50,499.65 L659.50,499.80 L661.50,499.94 L663.50,500.09 L665.50,500.23 L667.50,500.38 L669.50,500.53 L671.50,500.68 L673.50,500.84 L675.50,500.99 L677.50,501.15 L679.50,501.31 L681.50,501.47 L683.50,501.63 L685.50,501.79 L687.50,501.96 L689.50,502.12 L691.50,502.29 L693.50,502.46 L695.50,502.63 L697.50,502.80 L699.50,502.97 L701.50,503.15 L703.50,503.33 L705.50,503.50 L707.50,503.68 L709.50,503.87 L711.50,504.05 L713.50,504.23 L715.50,504.42 L717.50,504.61 L719.50,504.80 L721.50,504.99 L723.50,505.18 L725.50,505.37 L727.50,505.57 L729.50,505.76 L731.50,505.96 L733.50,506.16 L735.50,506.36 L737.50,506.57 L739.50,506.77 L741.50,506.98 L743.50,507.18 L745.50,507.39 L747.50,507.60 L749.50,507.81 L751.50,508.03 L753.50,508.24 L755.50,508.46 L757.50,508.68 L759.50,508.90 L761.50,509.12 L763.50,509.34 L765.50,509.56 L767.50,509.79 L767.60,509.80" fill="none" stroke="#000" stroke-width="1.5" stroke-linejoin="round" stroke-linecap="butt"/>
<path d="M485.50,499.40 L487.50,499.34 L489.50,499.28 L491.50,499.22 L493.50,499.16 L495.50,499.10 L497.50,499.05 L499.50,498.99 L501.50,498.94 L503.50,498.89 L505.50,498.83 L507.50,498.79 L509.50,498.74 L511.50,498.69 L513.50,498.64 L515.50,498.60 L517.50,498.55 L519.50,498.51 L521.50,498.47 L523.50,498.43 L525.50,498.39 L527.50,498.35 L529.50,498.31 L531.50,498.28 L533.50,498.24 L535.50,498.20 L537.50,498.17 L539.50,498.14 L541.50,498.10 L543.50,498.07 L545.50,498.04 L547.50,498.01 L549.50,497.98 L551.50,497.95 L553.50,497.92 L555.50,497.89 L557.50,497.87 L559.50,497.84 L561.50,497.81 L563.50,497.79 L565.50,497.76 L567.50,497.74 L569.50,497.71 L571.50,497.69 L573.50,497.67 L575.50,497.64 L577.50,497.62 L579.50,497.60 L581.50,497.58 L583.50,497.56 L585.50,497.53 L587.50,497.51 L589.50,497.49 L591.50,497.47 L593.50,497.45 L595.50,497.43 L597.50,497.41 L599.50,497.39 L601.50,497.37 L603.50,497.35 L605.50,497.33 L607.50,497.31 L609.50,497.29 L611.50,497.27 L613.50,497.25 L615.50,497.23 L617.50,497.20 L619.50,497.18 L621.50,497.16 L623.50,497.14 L625.50,497.12 L627.50,497.10 L629.50,497.08 L631.50,497.05 L633.50,497.03 L635.50,497.01 L637.50,496.99 L639.50,496.96 L641.50,496.94 L643.50,496.91 L645.50,496.89 L647.50,496.86 L649.50,496.84 L651.50,496.81 L653.50,496.78 L655.50,496.75 L657.50,496.73 L659.50,496.70 L661.50,496.67 L663.50,496.64 L665.50,496.61 L667.50,496.57 L669.50,496.54 L671.50,496.51 L673.50,496.47 L675.50,496.44 L677.50,496.40 L679.50,496.37 L681.50,496.33 L683.50,496.29 L685.50,496.25 L687.50,496.21 L689.50,496.17 L691.50,496.13 L693.50,496.08 L695.50,496.04 L697.50,495.99 L699.50,495.94 L701.50,495.90 L703.50,495.85 L705.50,495.80 L707.50,495.74 L709.50,495.69 L711.50,495.64 L713.50,495.58 L715.50,495.52 L717.50,495.47 L719.50,495.41 L721.50,495.35 L723.50,495.28 L725.50,495.22 L727.50,495.15 L729.50,495.09 L731.50,495.02 L733.50,494.95 L735.50,494.88 L737.50,494.81 L739.50,494.73 L741.50,494.66 L743.50,494.58 L745.50,494.50 L747.50,494.42 L749.50,494.33 L751.50,494.25 L753.50,494.16 L755.50,494.07 L757.50,493.98 L759.50,493.89 L761.50,493.80 L763.50,493.70 L765.50,493.60 L767.50,493.51 L767.60,493.50" fill="none" stroke="#000" stroke-width="1.5" stroke-linejoin="round" stroke-linecap="butt"/>
<line x1="485.5" y1="537.3" x2="767.6" y2="537.3" stroke="#0000ff" stroke-width="3"/>
<line x1="486.0" y1="538.5" x2="767.6" y2="538.5" stroke="#000" stroke-width="1.6"/>
<rect x="481" y="541.0" width="1" height="5" fill="#000"/>
<rect x="481" y="352.0" width="1" height="5" fill="#000"/>
<text x="483.40" y="567.70" font-size="14" text-anchor="middle" textLength="8.00" lengthAdjust="spacingAndGlyphs">0</text>
<rect x="537" y="541.0" width="1" height="5" fill="#000"/>
<rect x="537" y="352.0" width="1" height="5" fill="#000"/>
<text x="539.40" y="567.70" font-size="14" text-anchor="middle" textLength="8.00" lengthAdjust="spacingAndGlyphs">1</text>
<rect x="593" y="541.0" width="1" height="5" fill="#000"/>
<rect x="593" y="352.0" width="1" height="5" fill="#000"/>
<text x="595.40" y="567.70" font-size="14" text-anchor="middle" textLength="8.00" lengthAdjust="spacingAndGlyphs">2</text>
<rect x="649" y="541.0" width="1" height="5" fill="#000"/>
<rect x="649" y="352.0" width="1" height="5" fill="#000"/>
<text x="651.40" y="567.70" font-size="14" text-anchor="middle" textLength="8.00" lengthAdjust="spacingAndGlyphs">3</text>
<rect x="704" y="541.0" width="1" height="5" fill="#000"/>
<rect x="704" y="352.0" width="1" height="5" fill="#000"/>
<text x="706.40" y="567.70" font-size="14" text-anchor="middle" textLength="8.00" lengthAdjust="spacingAndGlyphs">4</text>
<rect x="760" y="541.0" width="1" height="5" fill="#000"/>
<rect x="760" y="352.0" width="1" height="5" fill="#000"/>
<text x="762.40" y="567.70" font-size="14" text-anchor="middle" textLength="8.00" lengthAdjust="spacingAndGlyphs">5</text>
<rect x="816" y="541.0" width="1" height="5" fill="#000"/>
<rect x="816" y="352.0" width="1" height="5" fill="#000"/>
<text x="818.40" y="567.70" font-size="14" text-anchor="middle" textLength="8.00" lengthAdjust="spacingAndGlyphs">6</text>
<rect x="482.0" y="546" width="5" height="1" fill="#000"/>
<rect x="811.0" y="546" width="5" height="1" fill="#000"/>
<text x="473.00" y="550.90" font-size="14" text-anchor="end" textLength="16.00" lengthAdjust="spacingAndGlyphs">15</text>
<rect x="482.0" y="521" width="5" height="1" fill="#000"/>
<rect x="811.0" y="521" width="5" height="1" fill="#000"/>
<text x="473.00" y="525.90" font-size="14" text-anchor="end" textLength="16.00" lengthAdjust="spacingAndGlyphs">20</text>
<rect x="482.0" y="497" width="5" height="1" fill="#000"/>
<rect x="811.0" y="497" width="5" height="1" fill="#000"/>
<text x="473.00" y="501.90" font-size="14" text-anchor="end" textLength="16.00" lengthAdjust="spacingAndGlyphs">25</text>
<rect x="482.0" y="473" width="5" height="1" fill="#000"/>
<rect x="811.0" y="473" width="5" height="1" fill="#000"/>
<text x="473.00" y="477.90" font-size="14" text-anchor="end" textLength="16.00" lengthAdjust="spacingAndGlyphs">30</text>
<rect x="482.0" y="448" width="5" height="1" fill="#000"/>
<rect x="811.0" y="448" width="5" height="1" fill="#000"/>
<text x="473.00" y="452.90" font-size="14" text-anchor="end" textLength="16.00" lengthAdjust="spacingAndGlyphs">35</text>
<rect x="482.0" y="424" width="5" height="1" fill="#000"/>
<rect x="811.0" y="424" width="5" height="1" fill="#000"/>
<text x="473.00" y="428.90" font-size="14" text-anchor="end" textLength="16.00" lengthAdjust="spacingAndGlyphs">40</text>
<rect x="482.0" y="400" width="5" height="1" fill="#000"/>
<rect x="811.0" y="400" width="5" height="1" fill="#000"/>
<text x="473.00" y="404.90" font-size="14" text-anchor="end" textLength="16.00" lengthAdjust="spacingAndGlyphs">45</text>
<rect x="482.0" y="375" width="5" height="1" fill="#000"/>
<rect x="811.0" y="375" width="5" height="1" fill="#000"/>
<text x="473.00" y="379.90" font-size="14" text-anchor="end" textLength="16.00" lengthAdjust="spacingAndGlyphs">50</text>
<rect x="482.0" y="351" width="5" height="1" fill="#000"/>
<rect x="811.0" y="351" width="5" height="1" fill="#000"/>
<text x="473.00" y="355.90" font-size="14" text-anchor="end" textLength="16.00" lengthAdjust="spacingAndGlyphs">55</text>
<rect x="481.5" y="351.5" width="335.0" height="195.0" fill="none" stroke="#000" stroke-width="1.6"/>
<text x="648.30" y="330.80" font-size="13.7" text-anchor="middle" textLength="359.00" lengthAdjust="spacingAndGlyphs" font-weight="bold">Concentration in solid in the middle of Cathode</text>
<text x="648.50" y="593.60" font-size="14" text-anchor="middle" textLength="40.00" lengthAdjust="spacingAndGlyphs">r (μm)</text>
<g transform="translate(438.40 530.00) rotate(-90)">
<text x="0.00" y="0.00" font-size="14" text-anchor="start" textLength="150.00" lengthAdjust="spacingAndGlyphs">Concentration (mol/dm</text>
<text x="150.00" y="-6.40" font-size="11.200000000000001" text-anchor="start" textLength="7.00" lengthAdjust="spacingAndGlyphs">3</text>
<text x="157.00" y="0.00" font-size="14" text-anchor="start" textLength="5.00" lengthAdjust="spacingAndGlyphs">)</text>
</g>
</svg>
</body></html>
